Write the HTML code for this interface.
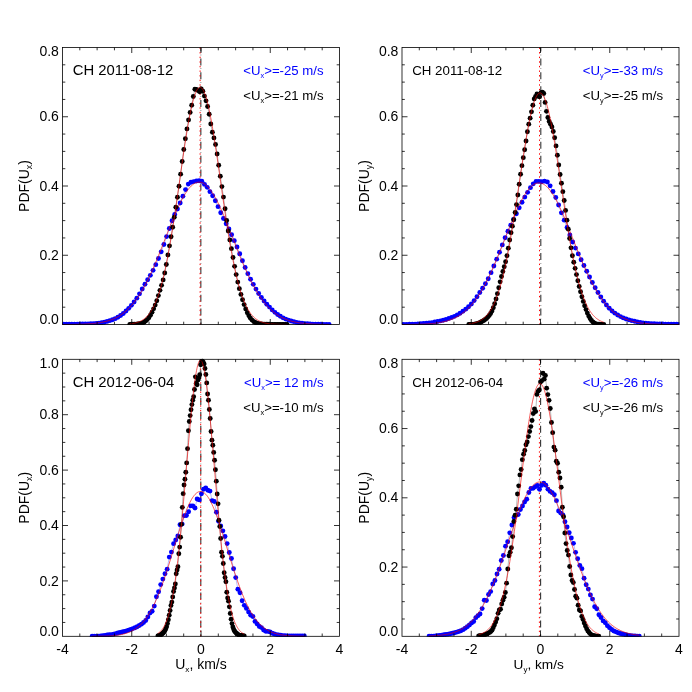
<!DOCTYPE html>
<html><head><meta charset="utf-8"><title>PDF</title>
<style>html,body{margin:0;padding:0;background:#fff;}body{width:692px;height:692px;overflow:hidden;font-family:"Liberation Sans",sans-serif;}</style>
</head><body>
<svg width="692" height="692" viewBox="0 0 692 692" style="display:block;will-change:transform;font-family:'Liberation Sans',sans-serif">
<rect width="692" height="692" fill="#fff"/>
<clipPath id="c0"><rect x="62.5" y="43.5" width="277.4" height="281.4"/></clipPath>
<g clip-path="url(#c0)">
<line x1="200.85" y1="47.5" x2="200.85" y2="324.5" stroke="#000" stroke-width="1.1" stroke-dasharray="7,3.2,0.5,3.2" stroke-dashoffset="3" opacity="0.8"/>
<line x1="200.10" y1="47.5" x2="200.10" y2="324.5" stroke="#f00" stroke-width="1.0" stroke-dasharray="1.4,3.2"/>
<polyline points="61.01,324.33 63.72,324.32 66.43,324.30 69.13,324.26 71.84,324.22 74.55,324.17 77.26,324.11 79.97,324.05 82.67,323.99 85.38,323.91 88.09,323.83 90.80,323.72 93.50,323.58 96.21,323.41 98.92,323.17 101.63,322.78 104.33,322.18 107.04,321.39 109.75,320.65 112.46,319.75 115.17,318.64 117.87,317.27 120.58,315.55 123.29,313.45 126.00,311.03 128.70,308.34 131.41,305.34 134.12,301.98 136.83,298.17 139.53,293.84 142.24,289.07 144.95,284.24 147.66,279.77 150.36,275.35 153.07,270.35 155.78,264.66 158.49,258.52 161.20,251.85 163.90,244.51 166.61,236.60 169.32,228.44 172.03,220.74 174.73,214.41 177.44,209.02 180.15,203.05 182.86,196.20 185.56,189.61 188.27,184.11 190.98,182.20 193.69,181.58 196.40,180.97 199.10,180.78 201.81,181.32 204.52,184.38 207.23,187.35 209.93,191.66 212.64,195.71 215.35,200.70 218.06,206.63 220.76,212.74 223.47,218.43 226.18,223.71 228.89,229.04 231.60,234.73 234.30,240.67 237.01,246.96 239.72,253.76 242.43,260.77 245.13,267.51 247.84,273.67 250.55,279.22 253.26,284.33 255.96,289.08 258.67,293.46 261.38,297.45 264.09,301.01 266.79,304.18 269.50,307.12 272.21,309.88 274.92,312.34 277.63,314.47 280.33,316.30 283.04,317.85 285.75,319.10 288.46,320.11 291.16,320.94 293.87,321.66 296.58,322.40 299.29,322.93 301.99,323.31 304.70,323.59 307.41,323.81 310.12,323.97 312.83,324.10 315.53,324.20 318.24,324.27 320.95,324.31 323.66,324.33 326.36,324.33 329.07,324.33" fill="none" stroke="#0000ff" stroke-width="0.35" opacity="0.8"/>
<g fill="#0000ff"><circle cx="61.01" cy="324.33" r="2.45"/><circle cx="63.72" cy="324.32" r="2.45"/><circle cx="66.43" cy="324.30" r="2.45"/><circle cx="69.13" cy="324.26" r="2.45"/><circle cx="71.84" cy="324.22" r="2.45"/><circle cx="74.55" cy="324.17" r="2.45"/><circle cx="77.26" cy="324.11" r="2.45"/><circle cx="79.97" cy="324.05" r="2.45"/><circle cx="82.67" cy="323.99" r="2.45"/><circle cx="85.38" cy="323.91" r="2.45"/><circle cx="88.09" cy="323.83" r="2.45"/><circle cx="90.80" cy="323.72" r="2.45"/><circle cx="93.50" cy="323.58" r="2.45"/><circle cx="96.21" cy="323.41" r="2.45"/><circle cx="98.92" cy="323.17" r="2.45"/><circle cx="101.63" cy="322.78" r="2.45"/><circle cx="104.33" cy="322.18" r="2.45"/><circle cx="107.04" cy="321.39" r="2.45"/><circle cx="109.75" cy="320.65" r="2.45"/><circle cx="112.46" cy="319.75" r="2.45"/><circle cx="115.17" cy="318.64" r="2.45"/><circle cx="117.87" cy="317.27" r="2.45"/><circle cx="120.58" cy="315.55" r="2.45"/><circle cx="123.29" cy="313.45" r="2.45"/><circle cx="126.00" cy="311.03" r="2.45"/><circle cx="128.70" cy="308.34" r="2.45"/><circle cx="131.41" cy="305.34" r="2.45"/><circle cx="134.12" cy="301.98" r="2.45"/><circle cx="136.83" cy="298.17" r="2.45"/><circle cx="139.53" cy="293.84" r="2.45"/><circle cx="142.24" cy="289.07" r="2.45"/><circle cx="144.95" cy="284.24" r="2.45"/><circle cx="147.66" cy="279.77" r="2.45"/><circle cx="150.36" cy="275.35" r="2.45"/><circle cx="153.07" cy="270.35" r="2.45"/><circle cx="155.78" cy="264.66" r="2.45"/><circle cx="158.49" cy="258.52" r="2.45"/><circle cx="161.20" cy="251.85" r="2.45"/><circle cx="163.90" cy="244.51" r="2.45"/><circle cx="166.61" cy="236.60" r="2.45"/><circle cx="169.32" cy="228.44" r="2.45"/><circle cx="172.03" cy="220.74" r="2.45"/><circle cx="174.73" cy="214.41" r="2.45"/><circle cx="177.44" cy="209.02" r="2.45"/><circle cx="180.15" cy="203.05" r="2.45"/><circle cx="182.86" cy="196.20" r="2.45"/><circle cx="185.56" cy="189.61" r="2.45"/><circle cx="188.27" cy="184.11" r="2.45"/><circle cx="190.98" cy="182.20" r="2.45"/><circle cx="193.69" cy="181.58" r="2.45"/><circle cx="196.40" cy="180.97" r="2.45"/><circle cx="199.10" cy="180.78" r="2.45"/><circle cx="201.81" cy="181.32" r="2.45"/><circle cx="204.52" cy="184.38" r="2.45"/><circle cx="207.23" cy="187.35" r="2.45"/><circle cx="209.93" cy="191.66" r="2.45"/><circle cx="212.64" cy="195.71" r="2.45"/><circle cx="215.35" cy="200.70" r="2.45"/><circle cx="218.06" cy="206.63" r="2.45"/><circle cx="220.76" cy="212.74" r="2.45"/><circle cx="223.47" cy="218.43" r="2.45"/><circle cx="226.18" cy="223.71" r="2.45"/><circle cx="228.89" cy="229.04" r="2.45"/><circle cx="231.60" cy="234.73" r="2.45"/><circle cx="234.30" cy="240.67" r="2.45"/><circle cx="237.01" cy="246.96" r="2.45"/><circle cx="239.72" cy="253.76" r="2.45"/><circle cx="242.43" cy="260.77" r="2.45"/><circle cx="245.13" cy="267.51" r="2.45"/><circle cx="247.84" cy="273.67" r="2.45"/><circle cx="250.55" cy="279.22" r="2.45"/><circle cx="253.26" cy="284.33" r="2.45"/><circle cx="255.96" cy="289.08" r="2.45"/><circle cx="258.67" cy="293.46" r="2.45"/><circle cx="261.38" cy="297.45" r="2.45"/><circle cx="264.09" cy="301.01" r="2.45"/><circle cx="266.79" cy="304.18" r="2.45"/><circle cx="269.50" cy="307.12" r="2.45"/><circle cx="272.21" cy="309.88" r="2.45"/><circle cx="274.92" cy="312.34" r="2.45"/><circle cx="277.63" cy="314.47" r="2.45"/><circle cx="280.33" cy="316.30" r="2.45"/><circle cx="283.04" cy="317.85" r="2.45"/><circle cx="285.75" cy="319.10" r="2.45"/><circle cx="288.46" cy="320.11" r="2.45"/><circle cx="291.16" cy="320.94" r="2.45"/><circle cx="293.87" cy="321.66" r="2.45"/><circle cx="296.58" cy="322.40" r="2.45"/><circle cx="299.29" cy="322.93" r="2.45"/><circle cx="301.99" cy="323.31" r="2.45"/><circle cx="304.70" cy="323.59" r="2.45"/><circle cx="307.41" cy="323.81" r="2.45"/><circle cx="310.12" cy="323.97" r="2.45"/><circle cx="312.83" cy="324.10" r="2.45"/><circle cx="315.53" cy="324.20" r="2.45"/><circle cx="318.24" cy="324.27" r="2.45"/><circle cx="320.95" cy="324.31" r="2.45"/><circle cx="323.66" cy="324.33" r="2.45"/><circle cx="326.36" cy="324.33" r="2.45"/><circle cx="329.07" cy="324.33" r="2.45"/></g>
<polyline points="61.01,324.47 62.13,324.46 63.25,324.46 64.38,324.45 65.50,324.44 66.62,324.44 67.74,324.43 68.86,324.42 69.98,324.41 71.11,324.40 72.23,324.38 73.35,324.37 74.47,324.35 75.59,324.33 76.71,324.31 77.84,324.28 78.96,324.25 80.08,324.22 81.20,324.19 82.32,324.15 83.44,324.11 84.56,324.06 85.69,324.01 86.81,323.95 87.93,323.88 89.05,323.81 90.17,323.73 91.29,323.65 92.42,323.55 93.54,323.45 94.66,323.33 95.78,323.20 96.90,323.07 98.02,322.92 99.15,322.75 100.27,322.57 101.39,322.37 102.51,322.16 103.63,321.93 104.75,321.67 105.88,321.40 107.00,321.10 108.12,320.78 109.24,320.43 110.36,320.06 111.48,319.65 112.60,319.22 113.73,318.75 114.85,318.25 115.97,317.71 117.09,317.13 118.21,316.51 119.33,315.85 120.46,315.15 121.58,314.40 122.70,313.60 123.82,312.76 124.94,311.86 126.06,310.90 127.19,309.89 128.31,308.83 129.43,307.70 130.55,306.52 131.67,305.27 132.79,303.95 133.91,302.58 135.04,301.13 136.16,299.62 137.28,298.04 138.40,296.39 139.52,294.67 140.64,292.88 141.77,291.02 142.89,289.09 144.01,287.08 145.13,285.01 146.25,282.88 147.37,280.67 148.50,278.40 149.62,276.06 150.74,273.66 151.86,271.21 152.98,268.69 154.10,266.13 155.23,263.51 156.35,260.84 157.47,258.13 158.59,255.39 159.71,252.60 160.83,249.79 161.95,246.96 163.08,244.11 164.20,241.24 165.32,238.37 166.44,235.50 167.56,232.63 168.68,229.77 169.81,226.94 170.93,224.13 172.05,221.36 173.17,218.62 174.29,215.94 175.41,213.31 176.54,210.74 177.66,208.24 178.78,205.81 179.90,203.48 181.02,201.23 182.14,199.08 183.26,197.03 184.39,195.09 185.51,193.27 186.63,191.57 187.75,189.99 188.87,188.55 189.99,187.25 191.12,186.09 192.24,185.07 193.36,184.20 194.48,183.48 195.60,182.91 196.72,182.50 197.85,182.24 198.97,182.14 200.09,182.20 201.21,182.42 202.33,182.79 203.45,183.32 204.57,184.01 205.70,184.84 206.82,185.82 207.94,186.95 209.06,188.22 210.18,189.63 211.30,191.17 212.43,192.84 213.55,194.63 214.67,196.54 215.79,198.57 216.91,200.69 218.03,202.92 219.16,205.24 220.28,207.64 221.40,210.12 222.52,212.67 223.64,215.29 224.76,217.96 225.89,220.69 227.01,223.45 228.13,226.25 229.25,229.08 230.37,231.93 231.49,234.79 232.61,237.67 233.74,240.54 234.86,243.41 235.98,246.26 237.10,249.10 238.22,251.92 239.34,254.71 240.47,257.46 241.59,260.18 242.71,262.86 243.83,265.49 244.95,268.07 246.07,270.60 247.20,273.07 248.32,275.48 249.44,277.83 250.56,280.12 251.68,282.34 252.80,284.50 253.92,286.59 255.05,288.60 256.17,290.55 257.29,292.43 258.41,294.24 259.53,295.97 260.65,297.64 261.78,299.24 262.90,300.77 264.02,302.23 265.14,303.62 266.26,304.95 267.38,306.22 268.51,307.42 269.63,308.56 270.75,309.64 271.87,310.66 272.99,311.63 274.11,312.54 275.24,313.40 276.36,314.21 277.48,314.97 278.60,315.69 279.72,316.36 280.84,316.98 281.96,317.57 283.09,318.12 284.21,318.63 285.33,319.11 286.45,319.55 287.57,319.96 288.69,320.34 289.82,320.70 290.94,321.02 292.06,321.33 293.18,321.61 294.30,321.87 295.42,322.10 296.55,322.32 297.67,322.52 298.79,322.71 299.91,322.88 301.03,323.03 302.15,323.17 303.27,323.30 304.40,323.42 305.52,323.53 306.64,323.62 307.76,323.71 308.88,323.79 310.00,323.87 311.13,323.93 312.25,323.99 313.37,324.05 314.49,324.09 315.61,324.14 316.73,324.18 317.86,324.21 318.98,324.25 320.10,324.27 321.22,324.30 322.34,324.32 323.46,324.34 324.59,324.36 325.71,324.38 326.83,324.39 327.95,324.40 329.07,324.42" fill="none" stroke="#f00000" stroke-width="0.65"/>
<polyline points="129.80,324.33 131.38,324.30 132.97,324.26 134.56,324.18 136.15,324.09 137.73,323.96 139.32,323.77 140.91,323.47 142.50,322.96 144.09,322.13 145.67,321.01 147.26,319.62 148.85,317.72 150.44,315.25 152.03,312.25 153.61,308.85 155.20,305.09 156.79,300.69 158.38,295.58 159.96,290.35 161.55,285.37 163.14,279.92 164.73,273.00 166.32,264.43 167.90,255.06 169.49,245.87 171.08,236.79 172.67,227.23 174.26,217.19 175.84,207.20 177.43,197.19 179.02,186.29 180.61,174.17 182.19,161.57 183.78,149.56 185.37,138.75 186.96,128.88 188.55,119.99 190.13,112.40 191.72,105.20 193.31,96.46 194.90,89.20 196.48,89.45 198.07,90.59 199.66,91.74 201.25,89.03 202.84,91.21 204.42,96.08 206.01,100.86 207.60,106.44 209.19,114.27 210.78,124.02 212.36,132.18 213.95,137.88 215.54,144.43 217.13,153.99 218.71,165.26 220.30,176.31 221.89,186.62 223.48,197.11 225.07,208.68 226.65,220.51 228.24,231.03 229.83,240.02 231.42,248.63 233.01,257.54 234.59,266.37 236.18,274.60 237.77,282.09 239.36,288.67 240.94,294.42 242.53,299.70 244.12,304.61 245.71,308.98 247.30,312.68 248.88,315.78 250.47,318.26 252.06,320.10 253.65,321.35 255.23,322.46 256.82,323.19 258.41,323.62 260.00,323.86 261.59,324.00 263.17,324.10 264.76,324.18 266.35,324.25 267.94,324.29 269.53,324.32 271.11,324.33 272.70,324.33 274.29,324.33 275.88,324.33 277.46,324.33 279.05,324.33 280.64,324.33 282.23,324.33 283.82,324.33 285.40,324.33 286.99,324.33" fill="none" stroke="#000" stroke-width="0.35" opacity="0.8"/>
<g fill="#000"><circle cx="129.80" cy="324.33" r="2.45"/><circle cx="131.38" cy="324.30" r="2.45"/><circle cx="132.97" cy="324.26" r="2.45"/><circle cx="134.56" cy="324.18" r="2.45"/><circle cx="136.15" cy="324.09" r="2.45"/><circle cx="137.73" cy="323.96" r="2.45"/><circle cx="139.32" cy="323.77" r="2.45"/><circle cx="140.91" cy="323.47" r="2.45"/><circle cx="142.50" cy="322.96" r="2.45"/><circle cx="144.09" cy="322.13" r="2.45"/><circle cx="145.67" cy="321.01" r="2.45"/><circle cx="147.26" cy="319.62" r="2.45"/><circle cx="148.85" cy="317.72" r="2.45"/><circle cx="150.44" cy="315.25" r="2.45"/><circle cx="152.03" cy="312.25" r="2.45"/><circle cx="153.61" cy="308.85" r="2.45"/><circle cx="155.20" cy="305.09" r="2.45"/><circle cx="156.79" cy="300.69" r="2.45"/><circle cx="158.38" cy="295.58" r="2.45"/><circle cx="159.96" cy="290.35" r="2.45"/><circle cx="161.55" cy="285.37" r="2.45"/><circle cx="163.14" cy="279.92" r="2.45"/><circle cx="164.73" cy="273.00" r="2.45"/><circle cx="166.32" cy="264.43" r="2.45"/><circle cx="167.90" cy="255.06" r="2.45"/><circle cx="169.49" cy="245.87" r="2.45"/><circle cx="171.08" cy="236.79" r="2.45"/><circle cx="172.67" cy="227.23" r="2.45"/><circle cx="174.26" cy="217.19" r="2.45"/><circle cx="175.84" cy="207.20" r="2.45"/><circle cx="177.43" cy="197.19" r="2.45"/><circle cx="179.02" cy="186.29" r="2.45"/><circle cx="180.61" cy="174.17" r="2.45"/><circle cx="182.19" cy="161.57" r="2.45"/><circle cx="183.78" cy="149.56" r="2.45"/><circle cx="185.37" cy="138.75" r="2.45"/><circle cx="186.96" cy="128.88" r="2.45"/><circle cx="188.55" cy="119.99" r="2.45"/><circle cx="190.13" cy="112.40" r="2.45"/><circle cx="191.72" cy="105.20" r="2.45"/><circle cx="193.31" cy="96.46" r="2.45"/><circle cx="194.90" cy="89.20" r="2.45"/><circle cx="196.48" cy="89.45" r="2.45"/><circle cx="198.07" cy="90.59" r="2.45"/><circle cx="199.66" cy="91.74" r="2.45"/><circle cx="201.25" cy="89.03" r="2.45"/><circle cx="202.84" cy="91.21" r="2.45"/><circle cx="204.42" cy="96.08" r="2.45"/><circle cx="206.01" cy="100.86" r="2.45"/><circle cx="207.60" cy="106.44" r="2.45"/><circle cx="209.19" cy="114.27" r="2.45"/><circle cx="210.78" cy="124.02" r="2.45"/><circle cx="212.36" cy="132.18" r="2.45"/><circle cx="213.95" cy="137.88" r="2.45"/><circle cx="215.54" cy="144.43" r="2.45"/><circle cx="217.13" cy="153.99" r="2.45"/><circle cx="218.71" cy="165.26" r="2.45"/><circle cx="220.30" cy="176.31" r="2.45"/><circle cx="221.89" cy="186.62" r="2.45"/><circle cx="223.48" cy="197.11" r="2.45"/><circle cx="225.07" cy="208.68" r="2.45"/><circle cx="226.65" cy="220.51" r="2.45"/><circle cx="228.24" cy="231.03" r="2.45"/><circle cx="229.83" cy="240.02" r="2.45"/><circle cx="231.42" cy="248.63" r="2.45"/><circle cx="233.01" cy="257.54" r="2.45"/><circle cx="234.59" cy="266.37" r="2.45"/><circle cx="236.18" cy="274.60" r="2.45"/><circle cx="237.77" cy="282.09" r="2.45"/><circle cx="239.36" cy="288.67" r="2.45"/><circle cx="240.94" cy="294.42" r="2.45"/><circle cx="242.53" cy="299.70" r="2.45"/><circle cx="244.12" cy="304.61" r="2.45"/><circle cx="245.71" cy="308.98" r="2.45"/><circle cx="247.30" cy="312.68" r="2.45"/><circle cx="248.88" cy="315.78" r="2.45"/><circle cx="250.47" cy="318.26" r="2.45"/><circle cx="252.06" cy="320.10" r="2.45"/><circle cx="253.65" cy="321.35" r="2.45"/><circle cx="255.23" cy="322.46" r="2.45"/><circle cx="256.82" cy="323.19" r="2.45"/><circle cx="258.41" cy="323.62" r="2.45"/><circle cx="260.00" cy="323.86" r="2.45"/><circle cx="261.59" cy="324.00" r="2.45"/><circle cx="263.17" cy="324.10" r="2.45"/><circle cx="264.76" cy="324.18" r="2.45"/><circle cx="266.35" cy="324.25" r="2.45"/><circle cx="267.94" cy="324.29" r="2.45"/><circle cx="269.53" cy="324.32" r="2.45"/><circle cx="271.11" cy="324.33" r="2.45"/><circle cx="272.70" cy="324.33" r="2.45"/><circle cx="274.29" cy="324.33" r="2.45"/><circle cx="275.88" cy="324.33" r="2.45"/><circle cx="277.46" cy="324.33" r="2.45"/><circle cx="279.05" cy="324.33" r="2.45"/><circle cx="280.64" cy="324.33" r="2.45"/><circle cx="282.23" cy="324.33" r="2.45"/><circle cx="283.82" cy="324.33" r="2.45"/><circle cx="285.40" cy="324.33" r="2.45"/><circle cx="286.99" cy="324.33" r="2.45"/></g>
<polyline points="129.80,323.87 130.45,323.79 131.11,323.71 131.77,323.62 132.43,323.52 133.08,323.41 133.74,323.29 134.40,323.16 135.06,323.01 135.72,322.85 136.37,322.68 137.03,322.48 137.69,322.28 138.35,322.05 139.00,321.80 139.66,321.52 140.32,321.23 140.98,320.91 141.63,320.56 142.29,320.18 142.95,319.77 143.61,319.32 144.27,318.84 144.92,318.33 145.58,317.77 146.24,317.17 146.90,316.52 147.55,315.83 148.21,315.08 148.87,314.28 149.53,313.43 150.19,312.51 150.84,311.54 151.50,310.50 152.16,309.39 152.82,308.21 153.47,306.96 154.13,305.63 154.79,304.22 155.45,302.73 156.10,301.15 156.76,299.49 157.42,297.73 158.08,295.88 158.74,293.93 159.39,291.89 160.05,289.74 160.71,287.50 161.37,285.15 162.02,282.69 162.68,280.12 163.34,277.45 164.00,274.67 164.66,271.77 165.31,268.77 165.97,265.66 166.63,262.44 167.29,259.11 167.94,255.67 168.60,252.13 169.26,248.48 169.92,244.73 170.57,240.89 171.23,236.95 171.89,232.92 172.55,228.81 173.21,224.61 173.86,220.34 174.52,216.00 175.18,211.59 175.84,207.13 176.49,202.62 177.15,198.06 177.81,193.47 178.47,188.86 179.12,184.23 179.78,179.59 180.44,174.96 181.10,170.34 181.76,165.73 182.41,161.17 183.07,156.64 183.73,152.17 184.39,147.76 185.04,143.43 185.70,139.18 186.36,135.04 187.02,131.00 187.68,127.08 188.33,123.29 188.99,119.63 189.65,116.13 190.31,112.79 190.96,109.62 191.62,106.63 192.28,103.83 192.94,101.22 193.59,98.82 194.25,96.63 194.91,94.65 195.57,92.90 196.23,91.38 196.88,90.09 197.54,89.04 198.20,88.23 198.86,87.66 199.51,87.34 200.17,87.27 200.83,87.44 201.49,87.86 202.15,88.52 202.80,89.42 203.46,90.57 204.12,91.95 204.78,93.56 205.43,95.40 206.09,97.46 206.75,99.74 207.41,102.22 208.06,104.90 208.72,107.78 209.38,110.84 210.04,114.08 210.70,117.49 211.35,121.05 212.01,124.75 212.67,128.59 213.33,132.56 213.98,136.65 214.64,140.83 215.30,145.11 215.96,149.48 216.62,153.91 217.27,158.40 217.93,162.95 218.59,167.53 219.25,172.14 219.90,176.77 220.56,181.41 221.22,186.04 221.88,190.67 222.53,195.27 223.19,199.85 223.85,204.39 224.51,208.88 225.17,213.32 225.82,217.70 226.48,222.02 227.14,226.26 227.80,230.43 228.45,234.51 229.11,238.50 229.77,242.40 230.43,246.21 231.09,249.92 231.74,253.53 232.40,257.03 233.06,260.42 233.72,263.71 234.37,266.89 235.03,269.96 235.69,272.92 236.35,275.77 237.00,278.51 237.66,281.14 238.32,283.66 238.98,286.08 239.64,288.39 240.29,290.60 240.95,292.70 241.61,294.71 242.27,296.61 242.92,298.43 243.58,300.15 244.24,301.78 244.90,303.32 245.56,304.78 246.21,306.16 246.87,307.46 247.53,308.68 248.19,309.83 248.84,310.91 249.50,311.93 250.16,312.88 250.82,313.77 251.47,314.60 252.13,315.38 252.79,316.10 253.45,316.78 254.11,317.41 254.76,317.99 255.42,318.53 256.08,319.04 256.74,319.50 257.39,319.93 258.05,320.33 258.71,320.70 259.37,321.04 260.03,321.35 260.68,321.63 261.34,321.90 262.00,322.14 262.66,322.36 263.31,322.56 263.97,322.75 264.63,322.92 265.29,323.07 265.94,323.21 266.60,323.34 267.26,323.46 267.92,323.56 268.58,323.66 269.23,323.74 269.89,323.82 270.55,323.89 271.21,323.96 271.86,324.02 272.52,324.07 273.18,324.11 273.84,324.16 274.49,324.20 275.15,324.23 275.81,324.26 276.47,324.29 277.13,324.31 277.78,324.33 278.44,324.35 279.10,324.37 279.76,324.38 280.41,324.40 281.07,324.41 281.73,324.42 282.39,324.43 283.05,324.44 283.70,324.45 284.36,324.45 285.02,324.46 285.68,324.46 286.33,324.47 286.99,324.47" fill="none" stroke="#f00000" stroke-width="0.65"/>
</g>
<rect x="62.5" y="47.5" width="277.0" height="277.0" fill="none" stroke="#000" stroke-width="0.8"/>
<path d="M79.81,47.5v2.8M79.81,324.5v-2.8M97.12,47.5v2.8M97.12,324.5v-2.8M114.44,47.5v2.8M114.44,324.5v-2.8M131.75,47.5v5.5M131.75,324.5v-5.5M149.06,47.5v2.8M149.06,324.5v-2.8M166.38,47.5v2.8M166.38,324.5v-2.8M183.69,47.5v2.8M183.69,324.5v-2.8M201.00,47.5v5.5M201.00,324.5v-5.5M218.31,47.5v2.8M218.31,324.5v-2.8M235.62,47.5v2.8M235.62,324.5v-2.8M252.94,47.5v2.8M252.94,324.5v-2.8M270.25,47.5v5.5M270.25,324.5v-5.5M287.56,47.5v2.8M287.56,324.5v-2.8M304.88,47.5v2.8M304.88,324.5v-2.8M322.19,47.5v2.8M322.19,324.5v-2.8M62.5,307.19h2.8M339.5,307.19h-2.8M62.5,289.88h2.8M339.5,289.88h-2.8M62.5,272.56h2.8M339.5,272.56h-2.8M62.5,255.25h5.5M339.5,255.25h-5.5M62.5,237.94h2.8M339.5,237.94h-2.8M62.5,220.62h2.8M339.5,220.62h-2.8M62.5,203.31h2.8M339.5,203.31h-2.8M62.5,186.00h5.5M339.5,186.00h-5.5M62.5,168.69h2.8M339.5,168.69h-2.8M62.5,151.38h2.8M339.5,151.38h-2.8M62.5,134.06h2.8M339.5,134.06h-2.8M62.5,116.75h5.5M339.5,116.75h-5.5M62.5,99.44h2.8M339.5,99.44h-2.8M62.5,82.12h2.8M339.5,82.12h-2.8M62.5,64.81h2.8M339.5,64.81h-2.8" stroke="#000" stroke-width="0.8" fill="none"/>
<text x="58.9" y="324.20" font-size="14.0" text-anchor="end">0.0</text>
<text x="58.9" y="259.85" font-size="14.0" text-anchor="end">0.2</text>
<text x="58.9" y="190.60" font-size="14.0" text-anchor="end">0.4</text>
<text x="58.9" y="121.35" font-size="14.0" text-anchor="end">0.6</text>
<text x="58.9" y="55.80" font-size="14.0" text-anchor="end">0.8</text>
<text transform="translate(29.20,186.00) rotate(-90)" font-size="14.0" text-anchor="middle">PDF(U<tspan font-size="8.68" dy="3.2">x</tspan><tspan dy="-3.2">)</tspan></text>
<text x="72.80" y="74.90" font-size="14.85">CH 2011-08-12</text>
<text x="323.60" y="75.10" font-size="13.2" fill="#0000ff" text-anchor="end" xml:space="preserve">&lt;U<tspan font-size="7.39" dy="2.7">x</tspan><tspan dy="-2.7">&gt;=-25 m/s</tspan></text>
<text x="323.60" y="100.10" font-size="13.2" fill="#000" text-anchor="end" xml:space="preserve">&lt;U<tspan font-size="7.39" dy="2.7">x</tspan><tspan dy="-2.7">&gt;=-21 m/s</tspan></text>
<clipPath id="c1"><rect x="402.0" y="43.5" width="277.4" height="281.4"/></clipPath>
<g clip-path="url(#c1)">
<line x1="540.80" y1="47.5" x2="540.80" y2="324.5" stroke="#000" stroke-width="1.1" stroke-dasharray="7,3.2,0.5,3.2" stroke-dashoffset="3" opacity="0.8"/>
<line x1="539.50" y1="47.5" x2="539.50" y2="324.5" stroke="#f00" stroke-width="1.0" stroke-dasharray="1.4,3.2"/>
<polyline points="401.01,324.33 403.83,324.33 406.64,324.33 409.45,324.31 412.27,324.24 415.08,324.11 417.90,323.93 420.71,323.73 423.52,323.53 426.34,323.29 429.15,323.00 431.96,322.59 434.78,322.06 437.59,321.44 440.41,320.89 443.22,320.24 446.03,319.47 448.85,318.57 451.66,317.53 454.48,316.34 457.29,314.91 460.10,313.19 462.92,311.25 465.73,309.15 468.55,306.79 471.36,303.99 474.17,300.61 476.99,296.73 479.80,292.55 482.62,288.22 485.43,283.73 488.24,278.68 491.06,272.64 493.87,265.94 496.69,259.16 499.50,252.22 502.31,244.91 505.13,237.80 507.94,231.30 510.76,225.25 513.57,219.47 516.38,213.72 519.20,207.83 522.01,202.21 524.82,197.12 527.64,192.37 530.45,187.65 533.27,183.83 536.08,181.40 538.89,181.39 541.71,181.75 544.52,181.14 547.34,181.98 550.15,185.86 552.96,191.43 555.78,197.49 558.59,204.95 561.41,212.85 564.22,220.17 567.03,227.39 569.85,234.89 572.66,241.94 575.48,248.12 578.29,253.90 581.10,259.70 583.92,265.49 586.73,271.23 589.55,276.95 592.36,282.51 595.17,287.70 597.99,292.48 600.80,296.93 603.62,301.13 606.43,304.96 609.24,308.25 612.06,310.95 614.87,313.15 617.68,315.02 620.50,316.60 623.31,317.88 626.13,318.93 628.94,319.86 631.75,320.67 634.57,321.32 637.38,321.93 640.20,322.44 643.01,322.84 645.82,323.16 648.64,323.41 651.45,323.61 654.27,323.76 657.08,323.89 659.89,323.99 662.71,324.07 665.52,324.14 668.34,324.20 671.15,324.25 673.96,324.29 676.78,324.31 679.59,324.33" fill="none" stroke="#0000ff" stroke-width="0.35" opacity="0.8"/>
<g fill="#0000ff"><circle cx="401.01" cy="324.33" r="2.45"/><circle cx="403.83" cy="324.33" r="2.45"/><circle cx="406.64" cy="324.33" r="2.45"/><circle cx="409.45" cy="324.31" r="2.45"/><circle cx="412.27" cy="324.24" r="2.45"/><circle cx="415.08" cy="324.11" r="2.45"/><circle cx="417.90" cy="323.93" r="2.45"/><circle cx="420.71" cy="323.73" r="2.45"/><circle cx="423.52" cy="323.53" r="2.45"/><circle cx="426.34" cy="323.29" r="2.45"/><circle cx="429.15" cy="323.00" r="2.45"/><circle cx="431.96" cy="322.59" r="2.45"/><circle cx="434.78" cy="322.06" r="2.45"/><circle cx="437.59" cy="321.44" r="2.45"/><circle cx="440.41" cy="320.89" r="2.45"/><circle cx="443.22" cy="320.24" r="2.45"/><circle cx="446.03" cy="319.47" r="2.45"/><circle cx="448.85" cy="318.57" r="2.45"/><circle cx="451.66" cy="317.53" r="2.45"/><circle cx="454.48" cy="316.34" r="2.45"/><circle cx="457.29" cy="314.91" r="2.45"/><circle cx="460.10" cy="313.19" r="2.45"/><circle cx="462.92" cy="311.25" r="2.45"/><circle cx="465.73" cy="309.15" r="2.45"/><circle cx="468.55" cy="306.79" r="2.45"/><circle cx="471.36" cy="303.99" r="2.45"/><circle cx="474.17" cy="300.61" r="2.45"/><circle cx="476.99" cy="296.73" r="2.45"/><circle cx="479.80" cy="292.55" r="2.45"/><circle cx="482.62" cy="288.22" r="2.45"/><circle cx="485.43" cy="283.73" r="2.45"/><circle cx="488.24" cy="278.68" r="2.45"/><circle cx="491.06" cy="272.64" r="2.45"/><circle cx="493.87" cy="265.94" r="2.45"/><circle cx="496.69" cy="259.16" r="2.45"/><circle cx="499.50" cy="252.22" r="2.45"/><circle cx="502.31" cy="244.91" r="2.45"/><circle cx="505.13" cy="237.80" r="2.45"/><circle cx="507.94" cy="231.30" r="2.45"/><circle cx="510.76" cy="225.25" r="2.45"/><circle cx="513.57" cy="219.47" r="2.45"/><circle cx="516.38" cy="213.72" r="2.45"/><circle cx="519.20" cy="207.83" r="2.45"/><circle cx="522.01" cy="202.21" r="2.45"/><circle cx="524.82" cy="197.12" r="2.45"/><circle cx="527.64" cy="192.37" r="2.45"/><circle cx="530.45" cy="187.65" r="2.45"/><circle cx="533.27" cy="183.83" r="2.45"/><circle cx="536.08" cy="181.40" r="2.45"/><circle cx="538.89" cy="181.39" r="2.45"/><circle cx="541.71" cy="181.75" r="2.45"/><circle cx="544.52" cy="181.14" r="2.45"/><circle cx="547.34" cy="181.98" r="2.45"/><circle cx="550.15" cy="185.86" r="2.45"/><circle cx="552.96" cy="191.43" r="2.45"/><circle cx="555.78" cy="197.49" r="2.45"/><circle cx="558.59" cy="204.95" r="2.45"/><circle cx="561.41" cy="212.85" r="2.45"/><circle cx="564.22" cy="220.17" r="2.45"/><circle cx="567.03" cy="227.39" r="2.45"/><circle cx="569.85" cy="234.89" r="2.45"/><circle cx="572.66" cy="241.94" r="2.45"/><circle cx="575.48" cy="248.12" r="2.45"/><circle cx="578.29" cy="253.90" r="2.45"/><circle cx="581.10" cy="259.70" r="2.45"/><circle cx="583.92" cy="265.49" r="2.45"/><circle cx="586.73" cy="271.23" r="2.45"/><circle cx="589.55" cy="276.95" r="2.45"/><circle cx="592.36" cy="282.51" r="2.45"/><circle cx="595.17" cy="287.70" r="2.45"/><circle cx="597.99" cy="292.48" r="2.45"/><circle cx="600.80" cy="296.93" r="2.45"/><circle cx="603.62" cy="301.13" r="2.45"/><circle cx="606.43" cy="304.96" r="2.45"/><circle cx="609.24" cy="308.25" r="2.45"/><circle cx="612.06" cy="310.95" r="2.45"/><circle cx="614.87" cy="313.15" r="2.45"/><circle cx="617.68" cy="315.02" r="2.45"/><circle cx="620.50" cy="316.60" r="2.45"/><circle cx="623.31" cy="317.88" r="2.45"/><circle cx="626.13" cy="318.93" r="2.45"/><circle cx="628.94" cy="319.86" r="2.45"/><circle cx="631.75" cy="320.67" r="2.45"/><circle cx="634.57" cy="321.32" r="2.45"/><circle cx="637.38" cy="321.93" r="2.45"/><circle cx="640.20" cy="322.44" r="2.45"/><circle cx="643.01" cy="322.84" r="2.45"/><circle cx="645.82" cy="323.16" r="2.45"/><circle cx="648.64" cy="323.41" r="2.45"/><circle cx="651.45" cy="323.61" r="2.45"/><circle cx="654.27" cy="323.76" r="2.45"/><circle cx="657.08" cy="323.89" r="2.45"/><circle cx="659.89" cy="323.99" r="2.45"/><circle cx="662.71" cy="324.07" r="2.45"/><circle cx="665.52" cy="324.14" r="2.45"/><circle cx="668.34" cy="324.20" r="2.45"/><circle cx="671.15" cy="324.25" r="2.45"/><circle cx="673.96" cy="324.29" r="2.45"/><circle cx="676.78" cy="324.31" r="2.45"/><circle cx="679.59" cy="324.33" r="2.45"/></g>
<polyline points="401.01,324.46 402.18,324.46 403.34,324.45 404.51,324.45 405.67,324.44 406.84,324.43 408.01,324.42 409.17,324.41 410.34,324.39 411.50,324.38 412.67,324.36 413.83,324.34 415.00,324.32 416.16,324.30 417.33,324.27 418.50,324.24 419.66,324.21 420.83,324.17 421.99,324.13 423.16,324.08 424.32,324.03 425.49,323.97 426.65,323.91 427.82,323.84 428.99,323.76 430.15,323.67 431.32,323.58 432.48,323.47 433.65,323.36 434.81,323.23 435.98,323.09 437.15,322.93 438.31,322.76 439.48,322.58 440.64,322.38 441.81,322.15 442.97,321.91 444.14,321.65 445.30,321.36 446.47,321.05 447.64,320.72 448.80,320.35 449.97,319.96 451.13,319.53 452.30,319.08 453.46,318.58 454.63,318.05 455.80,317.48 456.96,316.87 458.13,316.21 459.29,315.51 460.46,314.76 461.62,313.96 462.79,313.10 463.95,312.20 465.12,311.23 466.29,310.21 467.45,309.13 468.62,307.98 469.78,306.77 470.95,305.50 472.11,304.15 473.28,302.74 474.44,301.26 475.61,299.70 476.78,298.07 477.94,296.37 479.11,294.59 480.27,292.74 481.44,290.82 482.60,288.82 483.77,286.75 484.94,284.60 486.10,282.38 487.27,280.09 488.43,277.73 489.60,275.30 490.76,272.81 491.93,270.26 493.09,267.64 494.26,264.98 495.43,262.26 496.59,259.49 497.76,256.68 498.92,253.83 500.09,250.95 501.25,248.04 502.42,245.12 503.58,242.17 504.75,239.22 505.92,236.27 507.08,233.32 508.25,230.39 509.41,227.47 510.58,224.59 511.74,221.74 512.91,218.93 514.08,216.18 515.24,213.48 516.41,210.85 517.57,208.30 518.74,205.83 519.90,203.45 521.07,201.17 522.23,198.99 523.40,196.93 524.57,194.98 525.73,193.16 526.90,191.48 528.06,189.93 529.23,188.52 530.39,187.26 531.56,186.15 532.72,185.20 533.89,184.41 535.06,183.78 536.22,183.31 537.39,183.01 538.55,182.88 539.72,182.91 540.88,183.12 542.05,183.48 543.22,184.02 544.38,184.71 545.55,185.57 546.71,186.58 547.88,187.75 549.04,189.07 550.21,190.54 551.37,192.14 552.54,193.88 553.71,195.75 554.87,197.75 556.04,199.86 557.20,202.08 558.37,204.40 559.53,206.82 560.70,209.32 561.87,211.91 563.03,214.56 564.20,217.28 565.36,220.06 566.53,222.89 567.69,225.75 568.86,228.65 570.02,231.57 571.19,234.51 572.36,237.46 573.52,240.42 574.69,243.36 575.85,246.30 577.02,249.22 578.18,252.12 579.35,254.99 580.51,257.82 581.68,260.61 582.85,263.36 584.01,266.06 585.18,268.71 586.34,271.30 587.51,273.82 588.67,276.29 589.84,278.69 591.01,281.02 592.17,283.28 593.34,285.47 594.50,287.59 595.67,289.64 596.83,291.61 598.00,293.50 599.16,295.32 600.33,297.07 601.50,298.74 602.66,300.34 603.83,301.86 604.99,303.32 606.16,304.70 607.32,306.02 608.49,307.27 609.65,308.45 610.82,309.57 611.99,310.63 613.15,311.63 614.32,312.57 615.48,313.45 616.65,314.29 617.81,315.07 618.98,315.80 620.15,316.48 621.31,317.12 622.48,317.71 623.64,318.27 624.81,318.79 625.97,319.27 627.14,319.71 628.30,320.12 629.47,320.50 630.64,320.86 631.80,321.18 632.97,321.48 634.13,321.76 635.30,322.01 636.46,322.25 637.63,322.46 638.80,322.65 639.96,322.83 641.13,323.00 642.29,323.15 643.46,323.28 644.62,323.40 645.79,323.52 646.95,323.62 648.12,323.71 649.29,323.79 650.45,323.87 651.62,323.94 652.78,324.00 653.95,324.05 655.11,324.10 656.28,324.15 657.44,324.19 658.61,324.22 659.78,324.25 660.94,324.28 662.11,324.31 663.27,324.33 664.44,324.35 665.60,324.37 666.77,324.38 667.94,324.40 669.10,324.41 670.27,324.42 671.43,324.43 672.60,324.44 673.76,324.45 674.93,324.45 676.09,324.46 677.26,324.47 678.43,324.47 679.59,324.47" fill="none" stroke="#f00000" stroke-width="0.65"/>
<polyline points="468.78,324.45 470.15,324.45 471.51,324.45 472.87,324.45 474.24,324.25 475.60,324.00 476.96,323.68 478.33,323.24 479.69,322.66 481.05,321.95 482.41,321.22 483.78,320.49 485.14,319.57 486.50,318.43 487.87,317.05 489.23,315.42 490.59,313.44 491.96,310.95 493.32,307.75 494.68,303.75 496.05,299.02 497.41,293.63 498.77,287.74 500.13,281.87 501.50,276.46 502.86,271.49 504.22,266.72 505.59,261.73 506.95,255.69 508.31,248.16 509.68,240.05 511.04,232.67 512.40,226.15 513.76,219.64 515.13,212.57 516.49,204.61 517.85,195.06 519.22,184.31 520.58,174.29 521.94,165.64 523.31,157.65 524.67,149.75 526.03,140.96 527.40,131.68 528.76,124.14 530.12,118.17 531.48,111.86 532.85,105.29 534.21,98.90 535.57,96.56 536.94,93.96 538.30,96.36 539.66,96.87 541.03,92.62 542.39,92.08 543.75,93.43 545.12,102.39 546.48,111.33 547.84,117.56 549.20,121.55 550.57,124.16 551.93,127.01 553.29,131.47 554.66,137.80 556.02,145.90 557.38,155.26 558.75,164.98 560.11,174.45 561.47,183.29 562.83,191.65 564.20,200.50 565.56,210.38 566.92,220.15 568.29,229.17 569.65,238.45 571.01,247.87 572.38,255.79 573.74,262.19 575.10,268.35 576.47,274.62 577.83,280.74 579.19,286.51 580.55,291.81 581.92,296.74 583.28,301.38 584.64,305.70 586.01,309.61 587.37,313.08 588.73,316.08 590.10,318.57 591.46,320.47 592.82,321.90 594.19,323.07 595.55,323.75 596.91,324.10 598.27,324.26 599.64,324.32 601.00,324.33 602.36,324.33 603.73,324.33" fill="none" stroke="#000" stroke-width="0.35" opacity="0.8"/>
<g fill="#000"><circle cx="468.78" cy="324.45" r="2.45"/><circle cx="470.15" cy="324.45" r="2.45"/><circle cx="471.51" cy="324.45" r="2.45"/><circle cx="472.87" cy="324.45" r="2.45"/><circle cx="474.24" cy="324.25" r="2.45"/><circle cx="475.60" cy="324.00" r="2.45"/><circle cx="476.96" cy="323.68" r="2.45"/><circle cx="478.33" cy="323.24" r="2.45"/><circle cx="479.69" cy="322.66" r="2.45"/><circle cx="481.05" cy="321.95" r="2.45"/><circle cx="482.41" cy="321.22" r="2.45"/><circle cx="483.78" cy="320.49" r="2.45"/><circle cx="485.14" cy="319.57" r="2.45"/><circle cx="486.50" cy="318.43" r="2.45"/><circle cx="487.87" cy="317.05" r="2.45"/><circle cx="489.23" cy="315.42" r="2.45"/><circle cx="490.59" cy="313.44" r="2.45"/><circle cx="491.96" cy="310.95" r="2.45"/><circle cx="493.32" cy="307.75" r="2.45"/><circle cx="494.68" cy="303.75" r="2.45"/><circle cx="496.05" cy="299.02" r="2.45"/><circle cx="497.41" cy="293.63" r="2.45"/><circle cx="498.77" cy="287.74" r="2.45"/><circle cx="500.13" cy="281.87" r="2.45"/><circle cx="501.50" cy="276.46" r="2.45"/><circle cx="502.86" cy="271.49" r="2.45"/><circle cx="504.22" cy="266.72" r="2.45"/><circle cx="505.59" cy="261.73" r="2.45"/><circle cx="506.95" cy="255.69" r="2.45"/><circle cx="508.31" cy="248.16" r="2.45"/><circle cx="509.68" cy="240.05" r="2.45"/><circle cx="511.04" cy="232.67" r="2.45"/><circle cx="512.40" cy="226.15" r="2.45"/><circle cx="513.76" cy="219.64" r="2.45"/><circle cx="515.13" cy="212.57" r="2.45"/><circle cx="516.49" cy="204.61" r="2.45"/><circle cx="517.85" cy="195.06" r="2.45"/><circle cx="519.22" cy="184.31" r="2.45"/><circle cx="520.58" cy="174.29" r="2.45"/><circle cx="521.94" cy="165.64" r="2.45"/><circle cx="523.31" cy="157.65" r="2.45"/><circle cx="524.67" cy="149.75" r="2.45"/><circle cx="526.03" cy="140.96" r="2.45"/><circle cx="527.40" cy="131.68" r="2.45"/><circle cx="528.76" cy="124.14" r="2.45"/><circle cx="530.12" cy="118.17" r="2.45"/><circle cx="531.48" cy="111.86" r="2.45"/><circle cx="532.85" cy="105.29" r="2.45"/><circle cx="534.21" cy="98.90" r="2.45"/><circle cx="535.57" cy="96.56" r="2.45"/><circle cx="536.94" cy="93.96" r="2.45"/><circle cx="538.30" cy="96.36" r="2.45"/><circle cx="539.66" cy="96.87" r="2.45"/><circle cx="541.03" cy="92.62" r="2.45"/><circle cx="542.39" cy="92.08" r="2.45"/><circle cx="543.75" cy="93.43" r="2.45"/><circle cx="545.12" cy="102.39" r="2.45"/><circle cx="546.48" cy="111.33" r="2.45"/><circle cx="547.84" cy="117.56" r="2.45"/><circle cx="549.20" cy="121.55" r="2.45"/><circle cx="550.57" cy="124.16" r="2.45"/><circle cx="551.93" cy="127.01" r="2.45"/><circle cx="553.29" cy="131.47" r="2.45"/><circle cx="554.66" cy="137.80" r="2.45"/><circle cx="556.02" cy="145.90" r="2.45"/><circle cx="557.38" cy="155.26" r="2.45"/><circle cx="558.75" cy="164.98" r="2.45"/><circle cx="560.11" cy="174.45" r="2.45"/><circle cx="561.47" cy="183.29" r="2.45"/><circle cx="562.83" cy="191.65" r="2.45"/><circle cx="564.20" cy="200.50" r="2.45"/><circle cx="565.56" cy="210.38" r="2.45"/><circle cx="566.92" cy="220.15" r="2.45"/><circle cx="568.29" cy="229.17" r="2.45"/><circle cx="569.65" cy="238.45" r="2.45"/><circle cx="571.01" cy="247.87" r="2.45"/><circle cx="572.38" cy="255.79" r="2.45"/><circle cx="573.74" cy="262.19" r="2.45"/><circle cx="575.10" cy="268.35" r="2.45"/><circle cx="576.47" cy="274.62" r="2.45"/><circle cx="577.83" cy="280.74" r="2.45"/><circle cx="579.19" cy="286.51" r="2.45"/><circle cx="580.55" cy="291.81" r="2.45"/><circle cx="581.92" cy="296.74" r="2.45"/><circle cx="583.28" cy="301.38" r="2.45"/><circle cx="584.64" cy="305.70" r="2.45"/><circle cx="586.01" cy="309.61" r="2.45"/><circle cx="587.37" cy="313.08" r="2.45"/><circle cx="588.73" cy="316.08" r="2.45"/><circle cx="590.10" cy="318.57" r="2.45"/><circle cx="591.46" cy="320.47" r="2.45"/><circle cx="592.82" cy="321.90" r="2.45"/><circle cx="594.19" cy="323.07" r="2.45"/><circle cx="595.55" cy="323.75" r="2.45"/><circle cx="596.91" cy="324.10" r="2.45"/><circle cx="598.27" cy="324.26" r="2.45"/><circle cx="599.64" cy="324.32" r="2.45"/><circle cx="601.00" cy="324.33" r="2.45"/><circle cx="602.36" cy="324.33" r="2.45"/><circle cx="603.73" cy="324.33" r="2.45"/></g>
<polyline points="468.78,323.79 469.35,323.72 469.91,323.65 470.48,323.57 471.04,323.48 471.61,323.39 472.17,323.29 472.74,323.18 473.30,323.06 473.87,322.93 474.43,322.79 474.99,322.64 475.56,322.48 476.12,322.31 476.69,322.12 477.25,321.92 477.82,321.70 478.38,321.47 478.95,321.22 479.51,320.95 480.08,320.67 480.64,320.36 481.21,320.03 481.77,319.68 482.33,319.31 482.90,318.91 483.46,318.48 484.03,318.03 484.59,317.55 485.16,317.04 485.72,316.50 486.29,315.92 486.85,315.31 487.42,314.66 487.98,313.97 488.55,313.25 489.11,312.48 489.67,311.67 490.24,310.81 490.80,309.91 491.37,308.96 491.93,307.96 492.50,306.91 493.06,305.81 493.63,304.65 494.19,303.43 494.76,302.16 495.32,300.83 495.89,299.43 496.45,297.98 497.01,296.46 497.58,294.87 498.14,293.21 498.71,291.49 499.27,289.70 499.84,287.84 500.40,285.90 500.97,283.89 501.53,281.81 502.10,279.66 502.66,277.43 503.23,275.13 503.79,272.75 504.35,270.30 504.92,267.77 505.48,265.16 506.05,262.49 506.61,259.73 507.18,256.91 507.74,254.01 508.31,251.05 508.87,248.01 509.44,244.91 510.00,241.74 510.57,238.50 511.13,235.21 511.69,231.85 512.26,228.44 512.82,224.98 513.39,221.47 513.95,217.91 514.52,214.31 515.08,210.67 515.65,206.99 516.21,203.29 516.78,199.55 517.34,195.80 517.91,192.03 518.47,188.25 519.03,184.46 519.60,180.68 520.16,176.89 520.73,173.12 521.29,169.37 521.86,165.63 522.42,161.93 522.99,158.26 523.55,154.63 524.12,151.05 524.68,147.52 525.25,144.05 525.81,140.65 526.37,137.32 526.94,134.06 527.50,130.89 528.07,127.81 528.63,124.83 529.20,121.95 529.76,119.18 530.33,116.52 530.89,113.98 531.46,111.56 532.02,109.28 532.59,107.12 533.15,105.11 533.71,103.23 534.28,101.51 534.84,99.93 535.41,98.51 535.97,97.24 536.54,96.13 537.10,95.18 537.67,94.40 538.23,93.78 538.80,93.33 539.36,93.04 539.93,92.93 540.49,92.98 541.05,93.20 541.62,93.59 542.18,94.14 542.75,94.87 543.31,95.75 543.88,96.80 544.44,98.01 545.01,99.37 545.57,100.89 546.14,102.56 546.70,104.38 547.27,106.34 547.83,108.44 548.39,110.68 548.96,113.05 549.52,115.54 550.09,118.16 550.65,120.89 551.22,123.73 551.78,126.67 552.35,129.71 552.91,132.85 553.48,136.07 554.04,139.37 554.61,142.75 555.17,146.19 555.73,149.70 556.30,153.26 556.86,156.88 557.43,160.53 557.99,164.22 558.56,167.94 559.12,171.69 559.69,175.46 560.25,179.24 560.82,183.02 561.38,186.81 561.95,190.60 562.51,194.37 563.07,198.13 563.64,201.87 564.20,205.59 564.77,209.27 565.33,212.93 565.90,216.55 566.46,220.12 567.03,223.65 567.59,227.13 568.16,230.56 568.72,233.94 569.29,237.26 569.85,240.51 570.41,243.71 570.98,246.84 571.54,249.90 572.11,252.89 572.67,255.82 573.24,258.67 573.80,261.45 574.37,264.15 574.93,266.79 575.50,269.34 576.06,271.83 576.63,274.23 577.19,276.57 577.75,278.82 578.32,281.00 578.88,283.11 579.45,285.15 580.01,287.11 580.58,289.00 581.14,290.82 581.71,292.57 582.27,294.25 582.84,295.86 583.40,297.41 583.97,298.89 584.53,300.31 585.09,301.66 585.66,302.96 586.22,304.19 586.79,305.37 587.35,306.50 587.92,307.57 588.48,308.59 589.05,309.56 589.61,310.48 590.18,311.35 590.74,312.18 591.31,312.96 591.87,313.70 592.43,314.40 593.00,315.06 593.56,315.69 594.13,316.28 594.69,316.84 595.26,317.36 595.82,317.85 596.39,318.32 596.95,318.75 597.52,319.16 598.08,319.54 598.64,319.90 599.21,320.24 599.77,320.55 600.34,320.85 600.90,321.12 601.47,321.38 602.03,321.61 602.60,321.84 603.16,322.04 603.73,322.24" fill="none" stroke="#f00000" stroke-width="0.65"/>
</g>
<rect x="402.0" y="47.5" width="277.0" height="277.0" fill="none" stroke="#000" stroke-width="0.8"/>
<path d="M419.31,47.5v2.8M419.31,324.5v-2.8M436.62,47.5v2.8M436.62,324.5v-2.8M453.94,47.5v2.8M453.94,324.5v-2.8M471.25,47.5v5.5M471.25,324.5v-5.5M488.56,47.5v2.8M488.56,324.5v-2.8M505.88,47.5v2.8M505.88,324.5v-2.8M523.19,47.5v2.8M523.19,324.5v-2.8M540.50,47.5v5.5M540.50,324.5v-5.5M557.81,47.5v2.8M557.81,324.5v-2.8M575.12,47.5v2.8M575.12,324.5v-2.8M592.44,47.5v2.8M592.44,324.5v-2.8M609.75,47.5v5.5M609.75,324.5v-5.5M627.06,47.5v2.8M627.06,324.5v-2.8M644.38,47.5v2.8M644.38,324.5v-2.8M661.69,47.5v2.8M661.69,324.5v-2.8M402.0,307.19h2.8M679.0,307.19h-2.8M402.0,289.88h2.8M679.0,289.88h-2.8M402.0,272.56h2.8M679.0,272.56h-2.8M402.0,255.25h5.5M679.0,255.25h-5.5M402.0,237.94h2.8M679.0,237.94h-2.8M402.0,220.62h2.8M679.0,220.62h-2.8M402.0,203.31h2.8M679.0,203.31h-2.8M402.0,186.00h5.5M679.0,186.00h-5.5M402.0,168.69h2.8M679.0,168.69h-2.8M402.0,151.38h2.8M679.0,151.38h-2.8M402.0,134.06h2.8M679.0,134.06h-2.8M402.0,116.75h5.5M679.0,116.75h-5.5M402.0,99.44h2.8M679.0,99.44h-2.8M402.0,82.12h2.8M679.0,82.12h-2.8M402.0,64.81h2.8M679.0,64.81h-2.8" stroke="#000" stroke-width="0.8" fill="none"/>
<text x="398.4" y="324.20" font-size="14.0" text-anchor="end">0.0</text>
<text x="398.4" y="259.85" font-size="14.0" text-anchor="end">0.2</text>
<text x="398.4" y="190.60" font-size="14.0" text-anchor="end">0.4</text>
<text x="398.4" y="121.35" font-size="14.0" text-anchor="end">0.6</text>
<text x="398.4" y="55.80" font-size="14.0" text-anchor="end">0.8</text>
<text transform="translate(368.70,186.00) rotate(-90)" font-size="14.0" text-anchor="middle">PDF(U<tspan font-size="8.68" dy="3.2">y</tspan><tspan dy="-3.2">)</tspan></text>
<text x="412.20" y="74.90" font-size="13.3">CH 2011-08-12</text>
<text x="663.10" y="75.10" font-size="13.2" fill="#0000ff" text-anchor="end" xml:space="preserve">&lt;U<tspan font-size="7.39" dy="2.7">y</tspan><tspan dy="-2.7">&gt;=-33 m/s</tspan></text>
<text x="663.10" y="100.10" font-size="13.2" fill="#000" text-anchor="end" xml:space="preserve">&lt;U<tspan font-size="7.39" dy="2.7">y</tspan><tspan dy="-2.7">&gt;=-25 m/s</tspan></text>
<clipPath id="c2"><rect x="62.5" y="355.3" width="277.4" height="281.3999999999999"/></clipPath>
<g clip-path="url(#c2)">
<line x1="200.80" y1="359.3" x2="200.80" y2="636.3" stroke="#000" stroke-width="1.1" stroke-dasharray="7,3.2,0.5,3.2" stroke-dashoffset="3" opacity="0.8"/>
<line x1="200.70" y1="359.3" x2="200.70" y2="636.3" stroke="#f00" stroke-width="1.0" stroke-dasharray="1.4,3.2"/>
<polyline points="92.14,636.25 94.28,636.25 96.42,636.25 98.57,636.25 100.71,636.07 102.85,635.79 105.00,635.41 107.14,635.05 109.28,634.81 111.43,634.59 113.57,634.21 115.71,633.59 117.86,633.02 120.00,632.53 122.14,631.99 124.28,631.43 126.43,630.83 128.57,630.15 130.71,629.40 132.86,628.60 135.00,627.74 137.14,626.71 139.29,625.51 141.43,624.15 143.57,622.52 145.72,620.53 147.86,616.98 150.00,613.06 152.14,611.22 154.29,606.11 156.43,596.70 158.57,591.78 160.72,584.60 162.86,579.11 165.00,573.76 167.15,569.14 169.29,557.12 171.43,552.10 173.58,543.64 175.72,539.96 177.86,535.94 180.00,524.82 182.15,524.08 184.29,515.66 186.43,515.52 188.58,511.69 190.72,505.89 192.86,506.07 195.01,507.96 197.15,499.04 199.29,499.90 201.44,493.85 203.58,489.22 205.72,488.01 207.86,490.30 210.01,491.11 212.15,500.61 214.29,501.43 216.44,512.18 218.58,521.31 220.72,525.95 222.87,530.86 225.01,536.53 227.15,543.58 229.30,552.57 231.44,558.57 233.58,568.77 235.72,577.58 237.87,589.24 240.01,592.72 242.15,600.77 244.30,605.33 246.44,608.40 248.58,612.09 250.73,615.17 252.87,616.52 255.01,621.38 257.16,623.92 259.30,626.52 261.44,627.62 263.58,630.01 265.73,631.22 267.87,631.38 270.01,631.91 272.16,633.21 274.30,634.05 276.44,634.58 278.59,634.96 280.73,635.28 282.87,635.58 285.02,635.80 287.16,635.88 289.30,635.88 291.44,635.88 293.59,635.88 295.73,635.88 297.87,635.88 300.02,635.88 302.16,635.88 304.30,635.88" fill="none" stroke="#0000ff" stroke-width="0.35" opacity="0.8"/>
<g fill="#0000ff"><circle cx="92.14" cy="636.25" r="2.45"/><circle cx="94.28" cy="636.25" r="2.45"/><circle cx="96.42" cy="636.25" r="2.45"/><circle cx="98.57" cy="636.25" r="2.45"/><circle cx="100.71" cy="636.07" r="2.45"/><circle cx="102.85" cy="635.79" r="2.45"/><circle cx="105.00" cy="635.41" r="2.45"/><circle cx="107.14" cy="635.05" r="2.45"/><circle cx="109.28" cy="634.81" r="2.45"/><circle cx="111.43" cy="634.59" r="2.45"/><circle cx="113.57" cy="634.21" r="2.45"/><circle cx="115.71" cy="633.59" r="2.45"/><circle cx="117.86" cy="633.02" r="2.45"/><circle cx="120.00" cy="632.53" r="2.45"/><circle cx="122.14" cy="631.99" r="2.45"/><circle cx="124.28" cy="631.43" r="2.45"/><circle cx="126.43" cy="630.83" r="2.45"/><circle cx="128.57" cy="630.15" r="2.45"/><circle cx="130.71" cy="629.40" r="2.45"/><circle cx="132.86" cy="628.60" r="2.45"/><circle cx="135.00" cy="627.74" r="2.45"/><circle cx="137.14" cy="626.71" r="2.45"/><circle cx="139.29" cy="625.51" r="2.45"/><circle cx="141.43" cy="624.15" r="2.45"/><circle cx="143.57" cy="622.52" r="2.45"/><circle cx="145.72" cy="620.53" r="2.45"/><circle cx="147.86" cy="616.98" r="2.45"/><circle cx="150.00" cy="613.06" r="2.45"/><circle cx="152.14" cy="611.22" r="2.45"/><circle cx="154.29" cy="606.11" r="2.45"/><circle cx="156.43" cy="596.70" r="2.45"/><circle cx="158.57" cy="591.78" r="2.45"/><circle cx="160.72" cy="584.60" r="2.45"/><circle cx="162.86" cy="579.11" r="2.45"/><circle cx="165.00" cy="573.76" r="2.45"/><circle cx="167.15" cy="569.14" r="2.45"/><circle cx="169.29" cy="557.12" r="2.45"/><circle cx="171.43" cy="552.10" r="2.45"/><circle cx="173.58" cy="543.64" r="2.45"/><circle cx="175.72" cy="539.96" r="2.45"/><circle cx="177.86" cy="535.94" r="2.45"/><circle cx="180.00" cy="524.82" r="2.45"/><circle cx="182.15" cy="524.08" r="2.45"/><circle cx="184.29" cy="515.66" r="2.45"/><circle cx="186.43" cy="515.52" r="2.45"/><circle cx="188.58" cy="511.69" r="2.45"/><circle cx="190.72" cy="505.89" r="2.45"/><circle cx="192.86" cy="506.07" r="2.45"/><circle cx="195.01" cy="507.96" r="2.45"/><circle cx="197.15" cy="499.04" r="2.45"/><circle cx="199.29" cy="499.90" r="2.45"/><circle cx="201.44" cy="493.85" r="2.45"/><circle cx="203.58" cy="489.22" r="2.45"/><circle cx="205.72" cy="488.01" r="2.45"/><circle cx="207.86" cy="490.30" r="2.45"/><circle cx="210.01" cy="491.11" r="2.45"/><circle cx="212.15" cy="500.61" r="2.45"/><circle cx="214.29" cy="501.43" r="2.45"/><circle cx="216.44" cy="512.18" r="2.45"/><circle cx="218.58" cy="521.31" r="2.45"/><circle cx="220.72" cy="525.95" r="2.45"/><circle cx="222.87" cy="530.86" r="2.45"/><circle cx="225.01" cy="536.53" r="2.45"/><circle cx="227.15" cy="543.58" r="2.45"/><circle cx="229.30" cy="552.57" r="2.45"/><circle cx="231.44" cy="558.57" r="2.45"/><circle cx="233.58" cy="568.77" r="2.45"/><circle cx="235.72" cy="577.58" r="2.45"/><circle cx="237.87" cy="589.24" r="2.45"/><circle cx="240.01" cy="592.72" r="2.45"/><circle cx="242.15" cy="600.77" r="2.45"/><circle cx="244.30" cy="605.33" r="2.45"/><circle cx="246.44" cy="608.40" r="2.45"/><circle cx="248.58" cy="612.09" r="2.45"/><circle cx="250.73" cy="615.17" r="2.45"/><circle cx="252.87" cy="616.52" r="2.45"/><circle cx="255.01" cy="621.38" r="2.45"/><circle cx="257.16" cy="623.92" r="2.45"/><circle cx="259.30" cy="626.52" r="2.45"/><circle cx="261.44" cy="627.62" r="2.45"/><circle cx="263.58" cy="630.01" r="2.45"/><circle cx="265.73" cy="631.22" r="2.45"/><circle cx="267.87" cy="631.38" r="2.45"/><circle cx="270.01" cy="631.91" r="2.45"/><circle cx="272.16" cy="633.21" r="2.45"/><circle cx="274.30" cy="634.05" r="2.45"/><circle cx="276.44" cy="634.58" r="2.45"/><circle cx="278.59" cy="634.96" r="2.45"/><circle cx="280.73" cy="635.28" r="2.45"/><circle cx="282.87" cy="635.58" r="2.45"/><circle cx="285.02" cy="635.80" r="2.45"/><circle cx="287.16" cy="635.88" r="2.45"/><circle cx="289.30" cy="635.88" r="2.45"/><circle cx="291.44" cy="635.88" r="2.45"/><circle cx="293.59" cy="635.88" r="2.45"/><circle cx="295.73" cy="635.88" r="2.45"/><circle cx="297.87" cy="635.88" r="2.45"/><circle cx="300.02" cy="635.88" r="2.45"/><circle cx="302.16" cy="635.88" r="2.45"/><circle cx="304.30" cy="635.88" r="2.45"/></g>
<polyline points="92.14,636.26 93.03,636.26 93.91,636.25 94.80,636.24 95.69,636.24 96.58,636.23 97.46,636.22 98.35,636.21 99.24,636.19 100.13,636.18 101.02,636.16 101.90,636.14 102.79,636.12 103.68,636.10 104.57,636.08 105.45,636.05 106.34,636.02 107.23,635.98 108.12,635.94 109.01,635.90 109.89,635.85 110.78,635.80 111.67,635.74 112.56,635.67 113.44,635.60 114.33,635.52 115.22,635.43 116.11,635.33 116.99,635.22 117.88,635.11 118.77,634.98 119.66,634.84 120.55,634.68 121.43,634.51 122.32,634.33 123.21,634.13 124.10,633.91 124.98,633.67 125.87,633.41 126.76,633.13 127.65,632.83 128.53,632.50 129.42,632.15 130.31,631.76 131.20,631.35 132.09,630.91 132.97,630.43 133.86,629.92 134.75,629.37 135.64,628.78 136.52,628.15 137.41,627.47 138.30,626.76 139.19,625.99 140.08,625.18 140.96,624.31 141.85,623.39 142.74,622.42 143.63,621.39 144.51,620.30 145.40,619.16 146.29,617.95 147.18,616.67 148.06,615.33 148.95,613.93 149.84,612.45 150.73,610.91 151.62,609.30 152.50,607.62 153.39,605.86 154.28,604.04 155.17,602.14 156.05,600.17 156.94,598.13 157.83,596.02 158.72,593.84 159.60,591.59 160.49,589.28 161.38,586.90 162.27,584.45 163.16,581.95 164.04,579.39 164.93,576.77 165.82,574.10 166.71,571.39 167.59,568.63 168.48,565.83 169.37,563.00 170.26,560.14 171.15,557.25 172.03,554.35 172.92,551.43 173.81,548.51 174.70,545.58 175.58,542.66 176.47,539.76 177.36,536.88 178.25,534.02 179.13,531.20 180.02,528.42 180.91,525.69 181.80,523.01 182.69,520.40 183.57,517.86 184.46,515.40 185.35,513.03 186.24,510.74 187.12,508.56 188.01,506.48 188.90,504.52 189.79,502.67 190.68,500.95 191.56,499.35 192.45,497.89 193.34,496.58 194.23,495.40 195.11,494.37 196.00,493.50 196.89,492.77 197.78,492.20 198.66,491.80 199.55,491.55 200.44,491.46 201.33,491.53 202.22,491.76 203.10,492.15 203.99,492.70 204.88,493.40 205.77,494.26 206.65,495.27 207.54,496.43 208.43,497.73 209.32,499.17 210.20,500.75 211.09,502.46 211.98,504.29 212.87,506.24 213.76,508.31 214.64,510.48 215.53,512.75 216.42,515.12 217.31,517.57 218.19,520.10 219.08,522.70 219.97,525.37 220.86,528.10 221.75,530.87 222.63,533.69 223.52,536.54 224.41,539.42 225.30,542.32 226.18,545.24 227.07,548.16 227.96,551.09 228.85,554.00 229.73,556.91 230.62,559.80 231.51,562.66 232.40,565.50 233.29,568.30 234.17,571.07 235.06,573.79 235.95,576.46 236.84,579.08 237.72,581.65 238.61,584.16 239.50,586.61 240.39,589.00 241.28,591.32 242.16,593.58 243.05,595.77 243.94,597.89 244.83,599.93 245.71,601.91 246.60,603.82 247.49,605.65 248.38,607.41 249.26,609.11 250.15,610.73 251.04,612.28 251.93,613.76 252.82,615.17 253.70,616.52 254.59,617.80 255.48,619.02 256.37,620.17 257.25,621.27 258.14,622.30 259.03,623.28 259.92,624.21 260.80,625.08 261.69,625.90 262.58,626.67 263.47,627.39 264.36,628.07 265.24,628.70 266.13,629.30 267.02,629.85 267.91,630.37 268.79,630.85 269.68,631.30 270.57,631.72 271.46,632.10 272.35,632.46 273.23,632.79 274.12,633.10 275.01,633.38 275.90,633.64 276.78,633.88 277.67,634.10 278.56,634.31 279.45,634.49 280.33,634.66 281.22,634.82 282.11,634.96 283.00,635.09 283.89,635.21 284.77,635.32 285.66,635.42 286.55,635.51 287.44,635.59 288.32,635.66 289.21,635.73 290.10,635.79 290.99,635.84 291.87,635.89 292.76,635.94 293.65,635.98 294.54,636.01 295.43,636.04 296.31,636.07 297.20,636.10 298.09,636.12 298.98,636.14 299.86,636.16 300.75,636.18 301.64,636.19 302.53,636.20 303.42,636.22 304.30,636.23" fill="none" stroke="#f00000" stroke-width="0.65"/>
<polyline points="157.89,635.88 158.76,635.70 159.63,635.38 160.50,634.96 161.38,634.47 162.25,633.77 163.12,632.96 163.99,631.93 164.86,630.63 165.74,629.01 166.61,626.70 167.48,623.60 168.35,619.74 169.22,615.23 170.10,610.47 170.97,605.53 171.84,602.09 172.71,596.96 173.58,591.48 174.46,587.89 175.33,583.91 176.20,573.80 177.07,569.94 177.94,566.79 178.82,553.71 179.69,547.12 180.56,537.25 181.43,524.33 182.30,507.36 183.18,493.66 184.05,485.01 184.92,479.27 185.79,472.27 186.66,462.91 187.54,448.67 188.41,430.78 189.28,421.55 190.15,415.61 191.02,409.82 191.90,404.59 192.77,400.31 193.64,396.76 194.51,389.52 195.38,376.85 196.26,383.30 197.13,384.70 198.00,380.01 198.87,377.69 199.74,374.70 200.62,364.68 201.49,361.46 202.36,361.30 203.23,362.18 204.11,363.90 204.98,368.51 205.85,374.47 206.72,382.88 207.59,394.07 208.47,400.32 209.34,409.47 210.21,418.49 211.08,431.49 211.95,440.17 212.83,445.29 213.70,452.40 214.57,460.31 215.44,469.80 216.31,481.13 217.19,494.07 218.06,503.87 218.93,520.23 219.80,526.49 220.67,538.45 221.55,552.20 222.42,556.34 223.29,563.47 224.16,572.68 225.03,577.53 225.91,581.79 226.78,592.22 227.65,598.07 228.52,601.15 229.39,606.83 230.27,613.52 231.14,619.16 232.01,623.58 232.88,627.03 233.75,629.56 234.63,631.27 235.50,632.34 236.37,633.13 237.24,633.88 238.11,634.58 238.99,635.11 239.86,635.37 240.73,635.54 241.60,635.68 242.47,635.79 243.35,635.85 244.22,635.88" fill="none" stroke="#000" stroke-width="0.35" opacity="0.8"/>
<g fill="#000"><circle cx="157.89" cy="635.88" r="2.45"/><circle cx="158.76" cy="635.70" r="2.45"/><circle cx="159.63" cy="635.38" r="2.45"/><circle cx="160.50" cy="634.96" r="2.45"/><circle cx="161.38" cy="634.47" r="2.45"/><circle cx="162.25" cy="633.77" r="2.45"/><circle cx="163.12" cy="632.96" r="2.45"/><circle cx="163.99" cy="631.93" r="2.45"/><circle cx="164.86" cy="630.63" r="2.45"/><circle cx="165.74" cy="629.01" r="2.45"/><circle cx="166.61" cy="626.70" r="2.45"/><circle cx="167.48" cy="623.60" r="2.45"/><circle cx="168.35" cy="619.74" r="2.45"/><circle cx="169.22" cy="615.23" r="2.45"/><circle cx="170.10" cy="610.47" r="2.45"/><circle cx="170.97" cy="605.53" r="2.45"/><circle cx="171.84" cy="602.09" r="2.45"/><circle cx="172.71" cy="596.96" r="2.45"/><circle cx="173.58" cy="591.48" r="2.45"/><circle cx="174.46" cy="587.89" r="2.45"/><circle cx="175.33" cy="583.91" r="2.45"/><circle cx="176.20" cy="573.80" r="2.45"/><circle cx="177.07" cy="569.94" r="2.45"/><circle cx="177.94" cy="566.79" r="2.45"/><circle cx="178.82" cy="553.71" r="2.45"/><circle cx="179.69" cy="547.12" r="2.45"/><circle cx="180.56" cy="537.25" r="2.45"/><circle cx="181.43" cy="524.33" r="2.45"/><circle cx="182.30" cy="507.36" r="2.45"/><circle cx="183.18" cy="493.66" r="2.45"/><circle cx="184.05" cy="485.01" r="2.45"/><circle cx="184.92" cy="479.27" r="2.45"/><circle cx="185.79" cy="472.27" r="2.45"/><circle cx="186.66" cy="462.91" r="2.45"/><circle cx="187.54" cy="448.67" r="2.45"/><circle cx="188.41" cy="430.78" r="2.45"/><circle cx="189.28" cy="421.55" r="2.45"/><circle cx="190.15" cy="415.61" r="2.45"/><circle cx="191.02" cy="409.82" r="2.45"/><circle cx="191.90" cy="404.59" r="2.45"/><circle cx="192.77" cy="400.31" r="2.45"/><circle cx="193.64" cy="396.76" r="2.45"/><circle cx="194.51" cy="389.52" r="2.45"/><circle cx="195.38" cy="376.85" r="2.45"/><circle cx="196.26" cy="383.30" r="2.45"/><circle cx="197.13" cy="384.70" r="2.45"/><circle cx="198.00" cy="380.01" r="2.45"/><circle cx="198.87" cy="377.69" r="2.45"/><circle cx="199.74" cy="374.70" r="2.45"/><circle cx="200.62" cy="364.68" r="2.45"/><circle cx="201.49" cy="361.46" r="2.45"/><circle cx="202.36" cy="361.30" r="2.45"/><circle cx="203.23" cy="362.18" r="2.45"/><circle cx="204.11" cy="363.90" r="2.45"/><circle cx="204.98" cy="368.51" r="2.45"/><circle cx="205.85" cy="374.47" r="2.45"/><circle cx="206.72" cy="382.88" r="2.45"/><circle cx="207.59" cy="394.07" r="2.45"/><circle cx="208.47" cy="400.32" r="2.45"/><circle cx="209.34" cy="409.47" r="2.45"/><circle cx="210.21" cy="418.49" r="2.45"/><circle cx="211.08" cy="431.49" r="2.45"/><circle cx="211.95" cy="440.17" r="2.45"/><circle cx="212.83" cy="445.29" r="2.45"/><circle cx="213.70" cy="452.40" r="2.45"/><circle cx="214.57" cy="460.31" r="2.45"/><circle cx="215.44" cy="469.80" r="2.45"/><circle cx="216.31" cy="481.13" r="2.45"/><circle cx="217.19" cy="494.07" r="2.45"/><circle cx="218.06" cy="503.87" r="2.45"/><circle cx="218.93" cy="520.23" r="2.45"/><circle cx="219.80" cy="526.49" r="2.45"/><circle cx="220.67" cy="538.45" r="2.45"/><circle cx="221.55" cy="552.20" r="2.45"/><circle cx="222.42" cy="556.34" r="2.45"/><circle cx="223.29" cy="563.47" r="2.45"/><circle cx="224.16" cy="572.68" r="2.45"/><circle cx="225.03" cy="577.53" r="2.45"/><circle cx="225.91" cy="581.79" r="2.45"/><circle cx="226.78" cy="592.22" r="2.45"/><circle cx="227.65" cy="598.07" r="2.45"/><circle cx="228.52" cy="601.15" r="2.45"/><circle cx="229.39" cy="606.83" r="2.45"/><circle cx="230.27" cy="613.52" r="2.45"/><circle cx="231.14" cy="619.16" r="2.45"/><circle cx="232.01" cy="623.58" r="2.45"/><circle cx="232.88" cy="627.03" r="2.45"/><circle cx="233.75" cy="629.56" r="2.45"/><circle cx="234.63" cy="631.27" r="2.45"/><circle cx="235.50" cy="632.34" r="2.45"/><circle cx="236.37" cy="633.13" r="2.45"/><circle cx="237.24" cy="633.88" r="2.45"/><circle cx="238.11" cy="634.58" r="2.45"/><circle cx="238.99" cy="635.11" r="2.45"/><circle cx="239.86" cy="635.37" r="2.45"/><circle cx="240.73" cy="635.54" r="2.45"/><circle cx="241.60" cy="635.68" r="2.45"/><circle cx="242.47" cy="635.79" r="2.45"/><circle cx="243.35" cy="635.85" r="2.45"/><circle cx="244.22" cy="635.88" r="2.45"/></g>
<polyline points="157.89,633.41 158.25,633.18 158.61,632.93 158.97,632.67 159.33,632.38 159.69,632.08 160.06,631.76 160.42,631.41 160.78,631.04 161.14,630.65 161.50,630.24 161.86,629.79 162.22,629.32 162.58,628.82 162.94,628.29 163.31,627.73 163.67,627.13 164.03,626.50 164.39,625.83 164.75,625.13 165.11,624.38 165.47,623.59 165.83,622.76 166.20,621.89 166.56,620.96 166.92,619.99 167.28,618.97 167.64,617.90 168.00,616.78 168.36,615.60 168.72,614.36 169.09,613.06 169.45,611.71 169.81,610.29 170.17,608.81 170.53,607.26 170.89,605.65 171.25,603.96 171.61,602.21 171.98,600.39 172.34,598.49 172.70,596.52 173.06,594.47 173.42,592.35 173.78,590.15 174.14,587.87 174.50,585.52 174.86,583.08 175.23,580.56 175.59,577.97 175.95,575.29 176.31,572.53 176.67,569.69 177.03,566.77 177.39,563.77 177.75,560.69 178.12,557.53 178.48,554.29 178.84,550.97 179.20,547.58 179.56,544.12 179.92,540.58 180.28,536.97 180.64,533.30 181.01,529.55 181.37,525.75 181.73,521.88 182.09,517.96 182.45,513.99 182.81,509.96 183.17,505.88 183.53,501.77 183.90,497.61 184.26,493.42 184.62,489.20 184.98,484.96 185.34,480.69 185.70,476.42 186.06,472.13 186.42,467.83 186.79,463.54 187.15,459.26 187.51,454.98 187.87,450.73 188.23,446.50 188.59,442.31 188.95,438.15 189.31,434.03 189.67,429.97 190.04,425.96 190.40,422.01 190.76,418.14 191.12,414.34 191.48,410.62 191.84,406.99 192.20,403.46 192.56,400.03 192.93,396.70 193.29,393.49 193.65,390.40 194.01,387.43 194.37,384.59 194.73,381.88 195.09,379.32 195.45,376.90 195.82,374.63 196.18,372.51 196.54,370.55 196.90,368.75 197.26,367.12 197.62,365.66 197.98,364.36 198.34,363.24 198.71,362.30 199.07,361.53 199.43,360.94 199.79,360.53 200.15,360.31 200.51,360.26 200.87,360.40 201.23,360.71 201.59,361.21 201.96,361.89 202.32,362.75 202.68,363.78 203.04,364.98 203.40,366.36 203.76,367.91 204.12,369.63 204.48,371.51 204.85,373.55 205.21,375.74 205.57,378.09 205.93,380.58 206.29,383.21 206.65,385.99 207.01,388.89 207.37,391.92 207.74,395.08 208.10,398.35 208.46,401.73 208.82,405.21 209.18,408.79 209.54,412.47 209.90,416.22 210.26,420.06 210.63,423.97 210.99,427.95 211.35,431.99 211.71,436.08 212.07,440.22 212.43,444.39 212.79,448.61 213.15,452.85 213.51,457.11 213.88,461.39 214.24,465.68 214.60,469.97 214.96,474.27 215.32,478.55 215.68,482.82 216.04,487.08 216.40,491.31 216.77,495.52 217.13,499.69 217.49,503.83 217.85,507.92 218.21,511.97 218.57,515.97 218.93,519.92 219.29,523.82 219.66,527.65 220.02,531.43 220.38,535.14 220.74,538.78 221.10,542.35 221.46,545.85 221.82,549.28 222.18,552.64 222.55,555.91 222.91,559.11 223.27,562.23 223.63,565.27 223.99,568.24 224.35,571.12 224.71,573.92 225.07,576.63 225.43,579.27 225.80,581.83 226.16,584.31 226.52,586.70 226.88,589.02 227.24,591.26 227.60,593.42 227.96,595.50 228.32,597.51 228.69,599.45 229.05,601.31 229.41,603.09 229.77,604.81 230.13,606.46 230.49,608.04 230.85,609.56 231.21,611.01 231.58,612.39 231.94,613.72 232.30,614.98 232.66,616.19 233.02,617.35 233.38,618.44 233.74,619.49 234.10,620.48 234.47,621.43 234.83,622.33 235.19,623.18 235.55,623.99 235.91,624.76 236.27,625.48 236.63,626.17 236.99,626.82 237.36,627.43 237.72,628.01 238.08,628.56 238.44,629.07 238.80,629.56 239.16,630.02 239.52,630.45 239.88,630.85 240.24,631.23 240.61,631.59 240.97,631.92 241.33,632.23 241.69,632.53 242.05,632.80 242.41,633.06 242.77,633.30 243.13,633.52 243.50,633.73 243.86,633.92 244.22,634.11" fill="none" stroke="#f00000" stroke-width="0.65"/>
</g>
<rect x="62.5" y="359.3" width="277.0" height="276.99999999999994" fill="none" stroke="#000" stroke-width="0.8"/>
<path d="M79.81,359.3v2.8M79.81,636.3v-2.8M97.12,359.3v2.8M97.12,636.3v-2.8M114.44,359.3v2.8M114.44,636.3v-2.8M131.75,359.3v5.5M131.75,636.3v-5.5M149.06,359.3v2.8M149.06,636.3v-2.8M166.38,359.3v2.8M166.38,636.3v-2.8M183.69,359.3v2.8M183.69,636.3v-2.8M201.00,359.3v5.5M201.00,636.3v-5.5M218.31,359.3v2.8M218.31,636.3v-2.8M235.62,359.3v2.8M235.62,636.3v-2.8M252.94,359.3v2.8M252.94,636.3v-2.8M270.25,359.3v5.5M270.25,636.3v-5.5M287.56,359.3v2.8M287.56,636.3v-2.8M304.88,359.3v2.8M304.88,636.3v-2.8M322.19,359.3v2.8M322.19,636.3v-2.8M62.5,622.45h2.8M339.5,622.45h-2.8M62.5,608.60h2.8M339.5,608.60h-2.8M62.5,594.75h2.8M339.5,594.75h-2.8M62.5,580.90h5.5M339.5,580.90h-5.5M62.5,567.05h2.8M339.5,567.05h-2.8M62.5,553.20h2.8M339.5,553.20h-2.8M62.5,539.35h2.8M339.5,539.35h-2.8M62.5,525.50h5.5M339.5,525.50h-5.5M62.5,511.65h2.8M339.5,511.65h-2.8M62.5,497.80h2.8M339.5,497.80h-2.8M62.5,483.95h2.8M339.5,483.95h-2.8M62.5,470.10h5.5M339.5,470.10h-5.5M62.5,456.25h2.8M339.5,456.25h-2.8M62.5,442.40h2.8M339.5,442.40h-2.8M62.5,428.55h2.8M339.5,428.55h-2.8M62.5,414.70h5.5M339.5,414.70h-5.5M62.5,400.85h2.8M339.5,400.85h-2.8M62.5,387.00h2.8M339.5,387.00h-2.8M62.5,373.15h2.8M339.5,373.15h-2.8" stroke="#000" stroke-width="0.8" fill="none"/>
<text x="58.9" y="636.00" font-size="14.0" text-anchor="end">0.0</text>
<text x="58.9" y="585.50" font-size="14.0" text-anchor="end">0.2</text>
<text x="58.9" y="530.10" font-size="14.0" text-anchor="end">0.4</text>
<text x="58.9" y="474.70" font-size="14.0" text-anchor="end">0.6</text>
<text x="58.9" y="419.30" font-size="14.0" text-anchor="end">0.8</text>
<text x="58.9" y="367.60" font-size="14.0" text-anchor="end">1.0</text>
<text x="62.50" y="654.40" font-size="14.0" text-anchor="middle">-4</text>
<text x="131.75" y="654.40" font-size="14.0" text-anchor="middle">-2</text>
<text x="201.00" y="654.40" font-size="14.0" text-anchor="middle">0</text>
<text x="270.25" y="654.40" font-size="14.0" text-anchor="middle">2</text>
<text x="339.50" y="654.40" font-size="14.0" text-anchor="middle">4</text>
<text x="201.00" y="668.50" font-size="14.0" text-anchor="middle">U<tspan font-size="8.12" dy="3.0">x</tspan><tspan dy="-3.0">, km/s</tspan></text>
<text transform="translate(29.20,497.80) rotate(-90)" font-size="14.0" text-anchor="middle">PDF(U<tspan font-size="8.68" dy="3.2">x</tspan><tspan dy="-3.2">)</tspan></text>
<text x="72.80" y="386.70" font-size="14.85">CH 2012-06-04</text>
<text x="323.60" y="386.90" font-size="13.2" fill="#0000ff" text-anchor="end" xml:space="preserve">&lt;U<tspan font-size="7.39" dy="2.7">x</tspan><tspan dy="-2.7">&gt;= 12 m/s</tspan></text>
<text x="323.60" y="411.90" font-size="13.2" fill="#000" text-anchor="end" xml:space="preserve">&lt;U<tspan font-size="7.39" dy="2.7">x</tspan><tspan dy="-2.7">&gt;=-10 m/s</tspan></text>
<clipPath id="c3"><rect x="402.0" y="355.3" width="277.4" height="281.3999999999999"/></clipPath>
<g clip-path="url(#c3)">
<line x1="540.60" y1="359.3" x2="540.60" y2="636.3" stroke="#000" stroke-width="1.1" stroke-dasharray="7,3.2,0.5,3.2" stroke-dashoffset="3" opacity="0.8"/>
<line x1="539.40" y1="359.3" x2="539.40" y2="636.3" stroke="#f00" stroke-width="1.0" stroke-dasharray="1.4,3.2"/>
<polyline points="429.10,636.25 431.23,636.25 433.35,636.15 435.47,635.95 437.59,635.71 439.72,635.41 441.84,635.09 443.96,634.80 446.08,634.52 448.21,634.20 450.33,633.80 452.45,633.30 454.58,632.82 456.70,632.14 458.82,631.46 460.94,630.71 463.07,629.64 465.19,628.28 467.31,626.80 469.43,625.05 471.56,623.03 473.68,621.50 475.80,617.66 477.92,615.80 480.05,614.07 482.17,608.61 484.29,600.15 486.42,600.52 488.54,594.49 490.66,591.59 492.78,584.06 494.91,580.47 497.03,573.98 499.15,569.21 501.27,560.45 503.40,555.49 505.52,546.15 507.64,541.75 509.76,532.83 511.89,524.94 514.01,517.59 516.13,515.15 518.25,514.43 520.38,509.43 522.50,506.04 524.62,502.05 526.75,499.30 528.87,492.43 530.99,488.46 533.11,488.36 535.24,486.68 537.36,485.43 539.48,489.29 541.60,485.38 543.73,483.13 545.85,485.27 547.97,489.17 550.09,491.38 552.22,492.73 554.34,494.80 556.46,500.67 558.58,511.02 560.71,513.11 562.83,514.97 564.95,521.69 567.08,527.05 569.20,532.76 571.32,538.04 573.44,543.33 575.57,552.36 577.69,558.72 579.81,565.41 581.93,568.66 584.06,578.27 586.18,584.82 588.30,589.10 590.42,594.99 592.55,599.12 594.67,606.70 596.79,608.76 598.92,614.71 601.04,617.52 603.16,620.89 605.28,622.81 607.41,625.82 609.53,627.75 611.65,629.46 613.77,630.94 615.90,631.87 618.02,632.78 620.14,633.43 622.26,633.98 624.39,634.51 626.51,635.01 628.63,635.38 630.75,635.63 632.88,635.85 635.00,636.06 637.12,636.25 639.25,636.25" fill="none" stroke="#0000ff" stroke-width="0.35" opacity="0.8"/>
<g fill="#0000ff"><circle cx="429.10" cy="636.25" r="2.45"/><circle cx="431.23" cy="636.25" r="2.45"/><circle cx="433.35" cy="636.15" r="2.45"/><circle cx="435.47" cy="635.95" r="2.45"/><circle cx="437.59" cy="635.71" r="2.45"/><circle cx="439.72" cy="635.41" r="2.45"/><circle cx="441.84" cy="635.09" r="2.45"/><circle cx="443.96" cy="634.80" r="2.45"/><circle cx="446.08" cy="634.52" r="2.45"/><circle cx="448.21" cy="634.20" r="2.45"/><circle cx="450.33" cy="633.80" r="2.45"/><circle cx="452.45" cy="633.30" r="2.45"/><circle cx="454.58" cy="632.82" r="2.45"/><circle cx="456.70" cy="632.14" r="2.45"/><circle cx="458.82" cy="631.46" r="2.45"/><circle cx="460.94" cy="630.71" r="2.45"/><circle cx="463.07" cy="629.64" r="2.45"/><circle cx="465.19" cy="628.28" r="2.45"/><circle cx="467.31" cy="626.80" r="2.45"/><circle cx="469.43" cy="625.05" r="2.45"/><circle cx="471.56" cy="623.03" r="2.45"/><circle cx="473.68" cy="621.50" r="2.45"/><circle cx="475.80" cy="617.66" r="2.45"/><circle cx="477.92" cy="615.80" r="2.45"/><circle cx="480.05" cy="614.07" r="2.45"/><circle cx="482.17" cy="608.61" r="2.45"/><circle cx="484.29" cy="600.15" r="2.45"/><circle cx="486.42" cy="600.52" r="2.45"/><circle cx="488.54" cy="594.49" r="2.45"/><circle cx="490.66" cy="591.59" r="2.45"/><circle cx="492.78" cy="584.06" r="2.45"/><circle cx="494.91" cy="580.47" r="2.45"/><circle cx="497.03" cy="573.98" r="2.45"/><circle cx="499.15" cy="569.21" r="2.45"/><circle cx="501.27" cy="560.45" r="2.45"/><circle cx="503.40" cy="555.49" r="2.45"/><circle cx="505.52" cy="546.15" r="2.45"/><circle cx="507.64" cy="541.75" r="2.45"/><circle cx="509.76" cy="532.83" r="2.45"/><circle cx="511.89" cy="524.94" r="2.45"/><circle cx="514.01" cy="517.59" r="2.45"/><circle cx="516.13" cy="515.15" r="2.45"/><circle cx="518.25" cy="514.43" r="2.45"/><circle cx="520.38" cy="509.43" r="2.45"/><circle cx="522.50" cy="506.04" r="2.45"/><circle cx="524.62" cy="502.05" r="2.45"/><circle cx="526.75" cy="499.30" r="2.45"/><circle cx="528.87" cy="492.43" r="2.45"/><circle cx="530.99" cy="488.46" r="2.45"/><circle cx="533.11" cy="488.36" r="2.45"/><circle cx="535.24" cy="486.68" r="2.45"/><circle cx="537.36" cy="485.43" r="2.45"/><circle cx="539.48" cy="489.29" r="2.45"/><circle cx="541.60" cy="485.38" r="2.45"/><circle cx="543.73" cy="483.13" r="2.45"/><circle cx="545.85" cy="485.27" r="2.45"/><circle cx="547.97" cy="489.17" r="2.45"/><circle cx="550.09" cy="491.38" r="2.45"/><circle cx="552.22" cy="492.73" r="2.45"/><circle cx="554.34" cy="494.80" r="2.45"/><circle cx="556.46" cy="500.67" r="2.45"/><circle cx="558.58" cy="511.02" r="2.45"/><circle cx="560.71" cy="513.11" r="2.45"/><circle cx="562.83" cy="514.97" r="2.45"/><circle cx="564.95" cy="521.69" r="2.45"/><circle cx="567.08" cy="527.05" r="2.45"/><circle cx="569.20" cy="532.76" r="2.45"/><circle cx="571.32" cy="538.04" r="2.45"/><circle cx="573.44" cy="543.33" r="2.45"/><circle cx="575.57" cy="552.36" r="2.45"/><circle cx="577.69" cy="558.72" r="2.45"/><circle cx="579.81" cy="565.41" r="2.45"/><circle cx="581.93" cy="568.66" r="2.45"/><circle cx="584.06" cy="578.27" r="2.45"/><circle cx="586.18" cy="584.82" r="2.45"/><circle cx="588.30" cy="589.10" r="2.45"/><circle cx="590.42" cy="594.99" r="2.45"/><circle cx="592.55" cy="599.12" r="2.45"/><circle cx="594.67" cy="606.70" r="2.45"/><circle cx="596.79" cy="608.76" r="2.45"/><circle cx="598.92" cy="614.71" r="2.45"/><circle cx="601.04" cy="617.52" r="2.45"/><circle cx="603.16" cy="620.89" r="2.45"/><circle cx="605.28" cy="622.81" r="2.45"/><circle cx="607.41" cy="625.82" r="2.45"/><circle cx="609.53" cy="627.75" r="2.45"/><circle cx="611.65" cy="629.46" r="2.45"/><circle cx="613.77" cy="630.94" r="2.45"/><circle cx="615.90" cy="631.87" r="2.45"/><circle cx="618.02" cy="632.78" r="2.45"/><circle cx="620.14" cy="633.43" r="2.45"/><circle cx="622.26" cy="633.98" r="2.45"/><circle cx="624.39" cy="634.51" r="2.45"/><circle cx="626.51" cy="635.01" r="2.45"/><circle cx="628.63" cy="635.38" r="2.45"/><circle cx="630.75" cy="635.63" r="2.45"/><circle cx="632.88" cy="635.85" r="2.45"/><circle cx="635.00" cy="636.06" r="2.45"/><circle cx="637.12" cy="636.25" r="2.45"/><circle cx="639.25" cy="636.25" r="2.45"/></g>
<polyline points="429.10,635.97 429.98,635.94 430.86,635.90 431.74,635.86 432.62,635.81 433.50,635.77 434.38,635.71 435.26,635.66 436.14,635.59 437.02,635.53 437.90,635.45 438.78,635.38 439.65,635.29 440.53,635.20 441.41,635.10 442.29,634.99 443.17,634.87 444.05,634.74 444.93,634.61 445.81,634.46 446.69,634.30 447.57,634.13 448.45,633.95 449.33,633.75 450.21,633.54 451.09,633.31 451.96,633.07 452.84,632.81 453.72,632.53 454.60,632.24 455.48,631.92 456.36,631.59 457.24,631.23 458.12,630.85 459.00,630.44 459.88,630.01 460.76,629.55 461.64,629.07 462.52,628.56 463.39,628.01 464.27,627.44 465.15,626.83 466.03,626.19 466.91,625.52 467.79,624.80 468.67,624.05 469.55,623.27 470.43,622.44 471.31,621.57 472.19,620.66 473.07,619.70 473.95,618.70 474.82,617.66 475.70,616.57 476.58,615.43 477.46,614.24 478.34,613.00 479.22,611.71 480.10,610.37 480.98,608.98 481.86,607.54 482.74,606.04 483.62,604.49 484.50,602.89 485.38,601.23 486.26,599.52 487.13,597.76 488.01,595.94 488.89,594.07 489.77,592.15 490.65,590.18 491.53,588.15 492.41,586.08 493.29,583.96 494.17,581.79 495.05,579.57 495.93,577.31 496.81,575.01 497.69,572.67 498.56,570.29 499.44,567.87 500.32,565.42 501.20,562.94 502.08,560.44 502.96,557.90 503.84,555.35 504.72,552.78 505.60,550.19 506.48,547.59 507.36,544.98 508.24,542.37 509.12,539.77 510.00,537.16 510.87,534.57 511.75,531.98 512.63,529.42 513.51,526.88 514.39,524.36 515.27,521.88 516.15,519.43 517.03,517.02 517.91,514.65 518.79,512.34 519.67,510.08 520.55,507.88 521.43,505.74 522.30,503.67 523.18,501.67 524.06,499.74 524.94,497.90 525.82,496.14 526.70,494.47 527.58,492.89 528.46,491.41 529.34,490.02 530.22,488.74 531.10,487.56 531.98,486.48 532.86,485.52 533.73,484.67 534.61,483.93 535.49,483.31 536.37,482.80 537.25,482.41 538.13,482.14 539.01,481.99 539.89,481.96 540.77,482.05 541.65,482.26 542.53,482.59 543.41,483.04 544.29,483.60 545.17,484.29 546.04,485.08 546.92,485.99 547.80,487.01 548.68,488.14 549.56,489.37 550.44,490.70 551.32,492.14 552.20,493.67 553.08,495.30 553.96,497.01 554.84,498.82 555.72,500.70 556.60,502.66 557.47,504.70 558.35,506.80 559.23,508.97 560.11,511.21 560.99,513.49 561.87,515.83 562.75,518.22 563.63,520.65 564.51,523.12 565.39,525.62 566.27,528.15 567.15,530.70 568.03,533.28 568.91,535.87 569.78,538.47 570.66,541.08 571.54,543.69 572.42,546.29 573.30,548.90 574.18,551.49 575.06,554.07 575.94,556.63 576.82,559.18 577.70,561.70 578.58,564.19 579.46,566.66 580.34,569.09 581.21,571.49 582.09,573.85 582.97,576.17 583.85,578.45 584.73,580.69 585.61,582.88 586.49,585.03 587.37,587.13 588.25,589.17 589.13,591.17 590.01,593.12 590.89,595.02 591.77,596.86 592.64,598.65 593.52,600.39 594.40,602.07 595.28,603.70 596.16,605.27 597.04,606.80 597.92,608.27 598.80,609.68 599.68,611.05 600.56,612.36 601.44,613.63 602.32,614.84 603.20,616.00 604.08,617.12 604.95,618.19 605.83,619.21 606.71,620.19 607.59,621.12 608.47,622.01 609.35,622.86 610.23,623.67 611.11,624.44 611.99,625.17 612.87,625.86 613.75,626.52 614.63,627.14 615.51,627.73 616.38,628.29 617.26,628.82 618.14,629.32 619.02,629.79 619.90,630.23 620.78,630.65 621.66,631.04 622.54,631.41 623.42,631.76 624.30,632.08 625.18,632.39 626.06,632.68 626.94,632.94 627.82,633.19 628.69,633.43 629.57,633.65 630.45,633.85 631.33,634.04 632.21,634.22 633.09,634.38 633.97,634.53 634.85,634.68 635.73,634.81 636.61,634.93 637.49,635.04 638.37,635.15 639.25,635.24" fill="none" stroke="#f00000" stroke-width="0.65"/>
<polyline points="478.67,635.88 479.88,635.77 481.10,635.60 482.31,635.39 483.52,635.13 484.74,634.79 485.95,634.35 487.16,633.78 488.38,633.08 489.59,632.39 490.80,631.51 492.01,630.23 493.23,627.87 494.44,625.04 495.65,621.95 496.87,618.65 498.08,613.37 499.29,609.94 500.51,609.26 501.72,604.04 502.93,600.23 504.15,597.28 505.36,592.51 506.57,583.15 507.79,569.05 509.00,555.70 510.21,552.25 511.43,547.72 512.64,536.60 513.85,521.49 515.07,515.20 516.28,509.19 517.49,494.01 518.71,485.86 519.92,474.90 521.13,469.51 522.35,459.65 523.56,454.26 524.77,450.47 525.99,444.82 527.20,442.03 528.41,436.60 529.63,431.44 530.84,426.62 532.05,420.53 533.27,413.53 534.48,408.92 535.69,411.58 536.91,394.40 538.12,391.34 539.33,389.95 540.55,382.02 541.76,380.73 542.97,373.29 544.19,379.14 545.40,375.43 546.61,388.17 547.83,394.58 549.04,400.33 550.25,408.44 551.47,422.50 552.68,432.64 553.89,447.08 555.11,450.14 556.32,461.32 557.53,463.25 558.75,472.21 559.96,477.95 561.17,487.21 562.39,507.27 563.60,516.68 564.81,532.95 566.03,543.60 567.24,550.49 568.45,555.11 569.67,566.55 570.88,575.00 572.09,580.54 573.31,582.58 574.52,589.48 575.73,596.15 576.94,598.14 578.16,605.25 579.37,609.91 580.58,610.88 581.80,616.38 583.01,619.38 584.22,623.02 585.44,625.99 586.65,628.72 587.86,630.89 589.08,632.52 590.29,633.86 591.50,634.85 592.72,635.36 593.93,635.70 595.14,635.96 596.36,636.18 597.57,636.25 598.78,636.25" fill="none" stroke="#000" stroke-width="0.35" opacity="0.8"/>
<g fill="#000"><circle cx="478.67" cy="635.88" r="2.45"/><circle cx="479.88" cy="635.77" r="2.45"/><circle cx="481.10" cy="635.60" r="2.45"/><circle cx="482.31" cy="635.39" r="2.45"/><circle cx="483.52" cy="635.13" r="2.45"/><circle cx="484.74" cy="634.79" r="2.45"/><circle cx="485.95" cy="634.35" r="2.45"/><circle cx="487.16" cy="633.78" r="2.45"/><circle cx="488.38" cy="633.08" r="2.45"/><circle cx="489.59" cy="632.39" r="2.45"/><circle cx="490.80" cy="631.51" r="2.45"/><circle cx="492.01" cy="630.23" r="2.45"/><circle cx="493.23" cy="627.87" r="2.45"/><circle cx="494.44" cy="625.04" r="2.45"/><circle cx="495.65" cy="621.95" r="2.45"/><circle cx="496.87" cy="618.65" r="2.45"/><circle cx="498.08" cy="613.37" r="2.45"/><circle cx="499.29" cy="609.94" r="2.45"/><circle cx="500.51" cy="609.26" r="2.45"/><circle cx="501.72" cy="604.04" r="2.45"/><circle cx="502.93" cy="600.23" r="2.45"/><circle cx="504.15" cy="597.28" r="2.45"/><circle cx="505.36" cy="592.51" r="2.45"/><circle cx="506.57" cy="583.15" r="2.45"/><circle cx="507.79" cy="569.05" r="2.45"/><circle cx="509.00" cy="555.70" r="2.45"/><circle cx="510.21" cy="552.25" r="2.45"/><circle cx="511.43" cy="547.72" r="2.45"/><circle cx="512.64" cy="536.60" r="2.45"/><circle cx="513.85" cy="521.49" r="2.45"/><circle cx="515.07" cy="515.20" r="2.45"/><circle cx="516.28" cy="509.19" r="2.45"/><circle cx="517.49" cy="494.01" r="2.45"/><circle cx="518.71" cy="485.86" r="2.45"/><circle cx="519.92" cy="474.90" r="2.45"/><circle cx="521.13" cy="469.51" r="2.45"/><circle cx="522.35" cy="459.65" r="2.45"/><circle cx="523.56" cy="454.26" r="2.45"/><circle cx="524.77" cy="450.47" r="2.45"/><circle cx="525.99" cy="444.82" r="2.45"/><circle cx="527.20" cy="442.03" r="2.45"/><circle cx="528.41" cy="436.60" r="2.45"/><circle cx="529.63" cy="431.44" r="2.45"/><circle cx="530.84" cy="426.62" r="2.45"/><circle cx="532.05" cy="420.53" r="2.45"/><circle cx="533.27" cy="413.53" r="2.45"/><circle cx="534.48" cy="408.92" r="2.45"/><circle cx="535.69" cy="411.58" r="2.45"/><circle cx="536.91" cy="394.40" r="2.45"/><circle cx="538.12" cy="391.34" r="2.45"/><circle cx="539.33" cy="389.95" r="2.45"/><circle cx="540.55" cy="382.02" r="2.45"/><circle cx="541.76" cy="380.73" r="2.45"/><circle cx="542.97" cy="373.29" r="2.45"/><circle cx="544.19" cy="379.14" r="2.45"/><circle cx="545.40" cy="375.43" r="2.45"/><circle cx="546.61" cy="388.17" r="2.45"/><circle cx="547.83" cy="394.58" r="2.45"/><circle cx="549.04" cy="400.33" r="2.45"/><circle cx="550.25" cy="408.44" r="2.45"/><circle cx="551.47" cy="422.50" r="2.45"/><circle cx="552.68" cy="432.64" r="2.45"/><circle cx="553.89" cy="447.08" r="2.45"/><circle cx="555.11" cy="450.14" r="2.45"/><circle cx="556.32" cy="461.32" r="2.45"/><circle cx="557.53" cy="463.25" r="2.45"/><circle cx="558.75" cy="472.21" r="2.45"/><circle cx="559.96" cy="477.95" r="2.45"/><circle cx="561.17" cy="487.21" r="2.45"/><circle cx="562.39" cy="507.27" r="2.45"/><circle cx="563.60" cy="516.68" r="2.45"/><circle cx="564.81" cy="532.95" r="2.45"/><circle cx="566.03" cy="543.60" r="2.45"/><circle cx="567.24" cy="550.49" r="2.45"/><circle cx="568.45" cy="555.11" r="2.45"/><circle cx="569.67" cy="566.55" r="2.45"/><circle cx="570.88" cy="575.00" r="2.45"/><circle cx="572.09" cy="580.54" r="2.45"/><circle cx="573.31" cy="582.58" r="2.45"/><circle cx="574.52" cy="589.48" r="2.45"/><circle cx="575.73" cy="596.15" r="2.45"/><circle cx="576.94" cy="598.14" r="2.45"/><circle cx="578.16" cy="605.25" r="2.45"/><circle cx="579.37" cy="609.91" r="2.45"/><circle cx="580.58" cy="610.88" r="2.45"/><circle cx="581.80" cy="616.38" r="2.45"/><circle cx="583.01" cy="619.38" r="2.45"/><circle cx="584.22" cy="623.02" r="2.45"/><circle cx="585.44" cy="625.99" r="2.45"/><circle cx="586.65" cy="628.72" r="2.45"/><circle cx="587.86" cy="630.89" r="2.45"/><circle cx="589.08" cy="632.52" r="2.45"/><circle cx="590.29" cy="633.86" r="2.45"/><circle cx="591.50" cy="634.85" r="2.45"/><circle cx="592.72" cy="635.36" r="2.45"/><circle cx="593.93" cy="635.70" r="2.45"/><circle cx="595.14" cy="635.96" r="2.45"/><circle cx="596.36" cy="636.18" r="2.45"/><circle cx="597.57" cy="636.25" r="2.45"/><circle cx="598.78" cy="636.25" r="2.45"/></g>
<polyline points="478.67,634.67 479.17,634.53 479.67,634.38 480.18,634.22 480.68,634.04 481.18,633.86 481.68,633.66 482.19,633.44 482.69,633.21 483.19,632.96 483.69,632.70 484.20,632.41 484.70,632.11 485.20,631.79 485.70,631.44 486.21,631.08 486.71,630.69 487.21,630.27 487.72,629.83 488.22,629.35 488.72,628.85 489.22,628.32 489.73,627.76 490.23,627.16 490.73,626.53 491.23,625.87 491.74,625.16 492.24,624.41 492.74,623.63 493.24,622.80 493.75,621.92 494.25,621.00 494.75,620.03 495.25,619.01 495.76,617.95 496.26,616.82 496.76,615.65 497.26,614.41 497.77,613.12 498.27,611.77 498.77,610.36 499.27,608.88 499.78,607.35 500.28,605.74 500.78,604.07 501.28,602.33 501.79,600.52 502.29,598.64 502.79,596.69 503.29,594.67 503.80,592.57 504.30,590.40 504.80,588.15 505.31,585.83 505.81,583.43 506.31,580.95 506.81,578.40 507.32,575.77 507.82,573.06 508.32,570.28 508.82,567.42 509.33,564.49 509.83,561.48 510.33,558.41 510.83,555.25 511.34,552.03 511.84,548.74 512.34,545.39 512.84,541.97 513.35,538.48 513.85,534.94 514.35,531.34 514.85,527.69 515.36,523.98 515.86,520.23 516.36,516.44 516.86,512.60 517.37,508.73 517.87,504.83 518.37,500.89 518.87,496.94 519.38,492.97 519.88,488.98 520.38,484.99 520.89,480.99 521.39,477.00 521.89,473.02 522.39,469.05 522.90,465.09 523.40,461.17 523.90,457.28 524.40,453.42 524.91,449.61 525.41,445.85 525.91,442.14 526.41,438.50 526.92,434.92 527.42,431.42 527.92,428.00 528.42,424.67 528.93,421.43 529.43,418.29 529.93,415.25 530.43,412.32 530.94,409.51 531.44,406.82 531.94,404.25 532.44,401.82 532.95,399.52 533.45,397.36 533.95,395.34 534.45,393.48 534.96,391.76 535.46,390.20 535.96,388.80 536.46,387.55 536.97,386.48 537.47,385.56 537.97,384.82 538.48,384.24 538.98,383.84 539.48,383.60 539.98,383.54 540.49,383.65 540.99,383.93 541.49,384.38 541.99,385.00 542.50,385.79 543.00,386.75 543.50,387.87 544.00,389.16 544.51,390.61 545.01,392.21 545.51,393.97 546.01,395.87 546.52,397.93 547.02,400.13 547.52,402.46 548.02,404.93 548.53,407.53 549.03,410.26 549.53,413.10 550.03,416.06 550.54,419.13 551.04,422.30 551.54,425.56 552.04,428.92 552.55,432.36 553.05,435.88 553.55,439.48 554.06,443.14 554.56,446.86 555.06,450.63 555.56,454.46 556.07,458.32 556.57,462.23 557.07,466.16 557.57,470.12 558.08,474.09 558.58,478.08 559.08,482.07 559.58,486.07 560.09,490.06 560.59,494.04 561.09,498.01 561.59,501.96 562.10,505.88 562.60,509.78 563.10,513.64 563.60,517.47 564.11,521.25 564.61,524.99 565.11,528.68 565.61,532.32 566.12,535.90 566.62,539.43 567.12,542.90 567.62,546.30 568.13,549.64 568.63,552.91 569.13,556.11 569.63,559.24 570.14,562.30 570.64,565.29 571.14,568.20 571.65,571.04 572.15,573.80 572.65,576.49 573.15,579.09 573.66,581.63 574.16,584.08 574.66,586.46 575.16,588.76 575.67,590.99 576.17,593.14 576.67,595.22 577.17,597.23 577.68,599.16 578.18,601.02 578.68,602.81 579.18,604.53 579.69,606.18 580.19,607.77 580.69,609.29 581.19,610.75 581.70,612.14 582.20,613.48 582.70,614.75 583.20,615.97 583.71,617.13 584.21,618.24 584.71,619.29 585.21,620.30 585.72,621.26 586.22,622.16 586.72,623.03 587.22,623.84 587.73,624.62 588.23,625.35 588.73,626.05 589.24,626.71 589.74,627.33 590.24,627.92 590.74,628.47 591.25,628.99 591.75,629.49 592.25,629.95 592.75,630.38 593.26,630.79 593.76,631.18 594.26,631.54 594.76,631.88 595.27,632.20 595.77,632.49 596.27,632.77 596.77,633.03 597.28,633.27 597.78,633.50 598.28,633.71 598.78,633.91" fill="none" stroke="#f00000" stroke-width="0.65"/>
</g>
<rect x="402.0" y="359.3" width="277.0" height="276.99999999999994" fill="none" stroke="#000" stroke-width="0.8"/>
<path d="M419.31,359.3v2.8M419.31,636.3v-2.8M436.62,359.3v2.8M436.62,636.3v-2.8M453.94,359.3v2.8M453.94,636.3v-2.8M471.25,359.3v5.5M471.25,636.3v-5.5M488.56,359.3v2.8M488.56,636.3v-2.8M505.88,359.3v2.8M505.88,636.3v-2.8M523.19,359.3v2.8M523.19,636.3v-2.8M540.50,359.3v5.5M540.50,636.3v-5.5M557.81,359.3v2.8M557.81,636.3v-2.8M575.12,359.3v2.8M575.12,636.3v-2.8M592.44,359.3v2.8M592.44,636.3v-2.8M609.75,359.3v5.5M609.75,636.3v-5.5M627.06,359.3v2.8M627.06,636.3v-2.8M644.38,359.3v2.8M644.38,636.3v-2.8M661.69,359.3v2.8M661.69,636.3v-2.8M402.0,618.99h2.8M679.0,618.99h-2.8M402.0,601.67h2.8M679.0,601.67h-2.8M402.0,584.36h2.8M679.0,584.36h-2.8M402.0,567.05h5.5M679.0,567.05h-5.5M402.0,549.74h2.8M679.0,549.74h-2.8M402.0,532.42h2.8M679.0,532.42h-2.8M402.0,515.11h2.8M679.0,515.11h-2.8M402.0,497.80h5.5M679.0,497.80h-5.5M402.0,480.49h2.8M679.0,480.49h-2.8M402.0,463.18h2.8M679.0,463.18h-2.8M402.0,445.86h2.8M679.0,445.86h-2.8M402.0,428.55h5.5M679.0,428.55h-5.5M402.0,411.24h2.8M679.0,411.24h-2.8M402.0,393.93h2.8M679.0,393.93h-2.8M402.0,376.61h2.8M679.0,376.61h-2.8" stroke="#000" stroke-width="0.8" fill="none"/>
<text x="398.4" y="636.00" font-size="14.0" text-anchor="end">0.0</text>
<text x="398.4" y="571.65" font-size="14.0" text-anchor="end">0.2</text>
<text x="398.4" y="502.40" font-size="14.0" text-anchor="end">0.4</text>
<text x="398.4" y="433.15" font-size="14.0" text-anchor="end">0.6</text>
<text x="398.4" y="367.60" font-size="14.0" text-anchor="end">0.8</text>
<text x="402.00" y="654.40" font-size="14.0" text-anchor="middle">-4</text>
<text x="471.25" y="654.40" font-size="14.0" text-anchor="middle">-2</text>
<text x="540.50" y="654.40" font-size="14.0" text-anchor="middle">0</text>
<text x="609.75" y="654.40" font-size="14.0" text-anchor="middle">2</text>
<text x="679.00" y="654.40" font-size="14.0" text-anchor="middle">4</text>
<text x="538.70" y="668.50" font-size="13.65" text-anchor="middle">U<tspan font-size="7.92" dy="3.0">y</tspan><tspan dy="-3.0">, km/s</tspan></text>
<text transform="translate(368.70,497.80) rotate(-90)" font-size="14.0" text-anchor="middle">PDF(U<tspan font-size="8.68" dy="3.2">y</tspan><tspan dy="-3.2">)</tspan></text>
<text x="412.20" y="386.70" font-size="13.3">CH 2012-06-04</text>
<text x="663.10" y="386.90" font-size="13.2" fill="#0000ff" text-anchor="end" xml:space="preserve">&lt;U<tspan font-size="7.39" dy="2.7">y</tspan><tspan dy="-2.7">&gt;=-26 m/s</tspan></text>
<text x="663.10" y="411.90" font-size="13.2" fill="#000" text-anchor="end" xml:space="preserve">&lt;U<tspan font-size="7.39" dy="2.7">y</tspan><tspan dy="-2.7">&gt;=-26 m/s</tspan></text>
</svg>
</body></html>
